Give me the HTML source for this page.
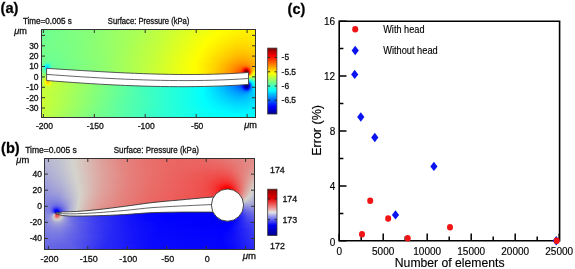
<!DOCTYPE html><html><head><meta charset="utf-8"><style>html,body{margin:0;padding:0;background:#fff;width:575px;height:269px;overflow:hidden}svg{display:block;font-family:"Liberation Sans",sans-serif;will-change:transform}</style></head><body><svg width="575" height="269" viewBox="0 0 575 269"><defs><linearGradient id="ga0"><stop offset="0.0023" stop-color="#6cff93"/><stop offset="0.2488" stop-color="#89ff76"/><stop offset="0.4953" stop-color="#b0ff4f"/><stop offset="0.7372" stop-color="#ebff14"/><stop offset="0.8442" stop-color="#feff01"/><stop offset="0.9837" stop-color="#ffee00"/><stop offset="0.9930" stop-color="#ffee00"/><stop offset="0.9977" stop-color="#fff400"/></linearGradient><linearGradient id="ga1"><stop offset="0.0023" stop-color="#6dff92"/><stop offset="0.2488" stop-color="#89ff76"/><stop offset="0.4860" stop-color="#afff50"/><stop offset="0.7372" stop-color="#ecff13"/><stop offset="0.8395" stop-color="#ffff00"/><stop offset="0.9698" stop-color="#ffef00"/><stop offset="0.9884" stop-color="#ffef00"/><stop offset="0.9977" stop-color="#fff600"/></linearGradient><linearGradient id="ga2"><stop offset="0.0023" stop-color="#6dff92"/><stop offset="0.2488" stop-color="#89ff76"/><stop offset="0.4767" stop-color="#aeff51"/><stop offset="0.8302" stop-color="#ffff00"/><stop offset="0.9558" stop-color="#ffef00"/><stop offset="0.9837" stop-color="#ffef00"/><stop offset="0.9977" stop-color="#fff500"/></linearGradient><linearGradient id="ga3"><stop offset="0.0023" stop-color="#6dff92"/><stop offset="0.2488" stop-color="#8aff75"/><stop offset="0.4674" stop-color="#adff52"/><stop offset="0.8209" stop-color="#feff01"/><stop offset="0.9465" stop-color="#ffee00"/><stop offset="0.9791" stop-color="#ffee00"/><stop offset="0.9977" stop-color="#fff400"/></linearGradient><linearGradient id="ga4"><stop offset="0.0023" stop-color="#6eff91"/><stop offset="0.2442" stop-color="#89ff76"/><stop offset="0.4581" stop-color="#acff53"/><stop offset="0.8163" stop-color="#ffff00"/><stop offset="0.9372" stop-color="#ffed00"/><stop offset="0.9744" stop-color="#ffed00"/><stop offset="0.9977" stop-color="#fff300"/></linearGradient><linearGradient id="ga5"><stop offset="0.0023" stop-color="#6eff91"/><stop offset="0.2395" stop-color="#88ff77"/><stop offset="0.4488" stop-color="#abff54"/><stop offset="0.8070" stop-color="#feff01"/><stop offset="0.9279" stop-color="#ffec00"/><stop offset="0.9698" stop-color="#ffec00"/><stop offset="0.9977" stop-color="#fff100"/></linearGradient><linearGradient id="ga6"><stop offset="0.0023" stop-color="#6eff91"/><stop offset="0.2302" stop-color="#87ff78"/><stop offset="0.4395" stop-color="#aaff55"/><stop offset="0.8023" stop-color="#ffff00"/><stop offset="0.9233" stop-color="#ffeb00"/><stop offset="0.9651" stop-color="#ffea00"/><stop offset="0.9977" stop-color="#fff000"/></linearGradient><linearGradient id="ga7"><stop offset="0.0023" stop-color="#6fff90"/><stop offset="0.2256" stop-color="#87ff78"/><stop offset="0.4302" stop-color="#a8ff57"/><stop offset="0.5326" stop-color="#bdff42"/><stop offset="0.7977" stop-color="#ffff00"/><stop offset="0.9186" stop-color="#ffea00"/><stop offset="0.9605" stop-color="#ffe900"/><stop offset="0.9977" stop-color="#ffee00"/></linearGradient><linearGradient id="ga8"><stop offset="0.0023" stop-color="#6fff90"/><stop offset="0.2163" stop-color="#85ff7a"/><stop offset="0.4209" stop-color="#a7ff58"/><stop offset="0.5372" stop-color="#bfff40"/><stop offset="0.7930" stop-color="#ffff00"/><stop offset="0.9140" stop-color="#ffe800"/><stop offset="0.9605" stop-color="#ffe700"/><stop offset="0.9977" stop-color="#ffed00"/></linearGradient><linearGradient id="ga9"><stop offset="0.0023" stop-color="#70ff8f"/><stop offset="0.2023" stop-color="#84ff7b"/><stop offset="0.4070" stop-color="#a5ff5a"/><stop offset="0.5372" stop-color="#bfff40"/><stop offset="0.7884" stop-color="#ffff00"/><stop offset="0.9140" stop-color="#ffe600"/><stop offset="0.9558" stop-color="#ffe500"/><stop offset="0.9977" stop-color="#ffeb00"/></linearGradient><linearGradient id="ga10"><stop offset="0.0023" stop-color="#70ff8f"/><stop offset="0.1930" stop-color="#82ff7d"/><stop offset="0.3977" stop-color="#a3ff5c"/><stop offset="0.5372" stop-color="#c0ff3f"/><stop offset="0.7837" stop-color="#ffff00"/><stop offset="0.9093" stop-color="#ffe500"/><stop offset="0.9558" stop-color="#ffe400"/><stop offset="0.9977" stop-color="#ffea00"/></linearGradient><linearGradient id="ga11"><stop offset="0.0023" stop-color="#70ff8f"/><stop offset="0.1837" stop-color="#81ff7e"/><stop offset="0.3884" stop-color="#a2ff5d"/><stop offset="0.5372" stop-color="#c0ff3f"/><stop offset="0.7791" stop-color="#ffff00"/><stop offset="0.9093" stop-color="#ffe300"/><stop offset="0.9558" stop-color="#ffe200"/><stop offset="0.9977" stop-color="#ffe800"/></linearGradient><linearGradient id="ga12"><stop offset="0.0023" stop-color="#71ff8e"/><stop offset="0.1744" stop-color="#80ff7f"/><stop offset="0.3791" stop-color="#a0ff5f"/><stop offset="0.5372" stop-color="#c1ff3e"/><stop offset="0.7744" stop-color="#ffff00"/><stop offset="0.9093" stop-color="#ffe100"/><stop offset="0.9558" stop-color="#ffe000"/><stop offset="0.9977" stop-color="#ffe700"/></linearGradient><linearGradient id="ga13"><stop offset="0.0023" stop-color="#71ff8e"/><stop offset="0.1651" stop-color="#7fff80"/><stop offset="0.3698" stop-color="#9fff60"/><stop offset="0.5372" stop-color="#c1ff3e"/><stop offset="0.7698" stop-color="#ffff00"/><stop offset="0.9047" stop-color="#ffdf00"/><stop offset="0.9512" stop-color="#ffde00"/><stop offset="0.9977" stop-color="#ffe500"/></linearGradient><linearGradient id="ga14"><stop offset="0.0023" stop-color="#71ff8e"/><stop offset="0.1558" stop-color="#7dff82"/><stop offset="0.3651" stop-color="#9eff61"/><stop offset="0.5419" stop-color="#c3ff3c"/><stop offset="0.7651" stop-color="#ffff00"/><stop offset="0.9047" stop-color="#ffdd00"/><stop offset="0.9512" stop-color="#ffdc00"/><stop offset="0.9977" stop-color="#ffe400"/></linearGradient><linearGradient id="ga15"><stop offset="0.0023" stop-color="#72ff8d"/><stop offset="0.1465" stop-color="#7cff83"/><stop offset="0.3558" stop-color="#9cff63"/><stop offset="0.5372" stop-color="#c2ff3d"/><stop offset="0.7605" stop-color="#ffff00"/><stop offset="0.9047" stop-color="#ffdb00"/><stop offset="0.9512" stop-color="#ffda00"/><stop offset="0.9977" stop-color="#ffe200"/></linearGradient><linearGradient id="ga16"><stop offset="0.0023" stop-color="#72ff8d"/><stop offset="0.1419" stop-color="#7bff84"/><stop offset="0.3512" stop-color="#9cff63"/><stop offset="0.5372" stop-color="#c3ff3c"/><stop offset="0.7605" stop-color="#fffe00"/><stop offset="0.9047" stop-color="#ffd900"/><stop offset="0.9512" stop-color="#ffd700"/><stop offset="0.9977" stop-color="#ffe000"/></linearGradient><linearGradient id="ga17"><stop offset="0.0023" stop-color="#72ff8d"/><stop offset="0.1326" stop-color="#7aff85"/><stop offset="0.3419" stop-color="#9aff65"/><stop offset="0.5372" stop-color="#c3ff3c"/><stop offset="0.7558" stop-color="#ffff00"/><stop offset="0.9047" stop-color="#ffd600"/><stop offset="0.9512" stop-color="#ffd500"/><stop offset="0.9977" stop-color="#ffde00"/></linearGradient><linearGradient id="ga18"><stop offset="0.0023" stop-color="#73ff8c"/><stop offset="0.1279" stop-color="#7aff85"/><stop offset="0.3372" stop-color="#99ff66"/><stop offset="0.5372" stop-color="#c4ff3b"/><stop offset="0.7512" stop-color="#ffff00"/><stop offset="0.9047" stop-color="#ffd400"/><stop offset="0.9512" stop-color="#ffd200"/><stop offset="0.9977" stop-color="#ffdc00"/></linearGradient><linearGradient id="ga19"><stop offset="0.0023" stop-color="#73ff8c"/><stop offset="0.1233" stop-color="#79ff86"/><stop offset="0.3326" stop-color="#98ff67"/><stop offset="0.5326" stop-color="#c3ff3c"/><stop offset="0.7512" stop-color="#fffe00"/><stop offset="0.9047" stop-color="#ffd100"/><stop offset="0.9512" stop-color="#ffd000"/><stop offset="0.9977" stop-color="#ffd900"/></linearGradient><linearGradient id="ga20"><stop offset="0.0023" stop-color="#74ff8b"/><stop offset="0.1140" stop-color="#78ff87"/><stop offset="0.3279" stop-color="#97ff68"/><stop offset="0.5372" stop-color="#c4ff3b"/><stop offset="0.7465" stop-color="#ffff00"/><stop offset="0.9047" stop-color="#ffcf00"/><stop offset="0.9512" stop-color="#ffcd00"/><stop offset="0.9977" stop-color="#ffd700"/></linearGradient><linearGradient id="ga21"><stop offset="0.0023" stop-color="#74ff8b"/><stop offset="0.1093" stop-color="#77ff88"/><stop offset="0.3233" stop-color="#97ff68"/><stop offset="0.5326" stop-color="#c4ff3b"/><stop offset="0.7419" stop-color="#ffff00"/><stop offset="0.9047" stop-color="#ffcc00"/><stop offset="0.9465" stop-color="#ffca00"/><stop offset="0.9977" stop-color="#ffd500"/></linearGradient><linearGradient id="ga22"><stop offset="0.0023" stop-color="#74ff8b"/><stop offset="0.0488" stop-color="#72ff8d"/><stop offset="0.1047" stop-color="#76ff89"/><stop offset="0.3186" stop-color="#96ff69"/><stop offset="0.5326" stop-color="#c4ff3b"/><stop offset="0.7419" stop-color="#fffe00"/><stop offset="0.9047" stop-color="#ffc900"/><stop offset="0.9465" stop-color="#ffc700"/><stop offset="0.9977" stop-color="#ffd300"/></linearGradient><linearGradient id="ga23"><stop offset="0.0023" stop-color="#75ff8a"/><stop offset="0.0442" stop-color="#72ff8d"/><stop offset="0.0953" stop-color="#75ff8a"/><stop offset="0.3140" stop-color="#95ff6a"/><stop offset="0.5326" stop-color="#c5ff3a"/><stop offset="0.7372" stop-color="#ffff00"/><stop offset="0.8674" stop-color="#ffd000"/><stop offset="0.9093" stop-color="#ffc500"/><stop offset="0.9512" stop-color="#ffc400"/><stop offset="0.9977" stop-color="#ffd000"/></linearGradient><linearGradient id="ga24"><stop offset="0.0023" stop-color="#75ff8a"/><stop offset="0.0442" stop-color="#71ff8e"/><stop offset="0.0907" stop-color="#74ff8b"/><stop offset="0.3093" stop-color="#94ff6b"/><stop offset="0.5279" stop-color="#c4ff3b"/><stop offset="0.7372" stop-color="#fffe00"/><stop offset="0.9093" stop-color="#ffc200"/><stop offset="0.9512" stop-color="#ffc100"/><stop offset="0.9977" stop-color="#ffce00"/></linearGradient><linearGradient id="ga25"><stop offset="0.0023" stop-color="#75ff8a"/><stop offset="0.0395" stop-color="#71ff8e"/><stop offset="0.0814" stop-color="#73ff8c"/><stop offset="0.3047" stop-color="#93ff6c"/><stop offset="0.5279" stop-color="#c4ff3b"/><stop offset="0.7326" stop-color="#ffff00"/><stop offset="0.9093" stop-color="#ffbf00"/><stop offset="0.9512" stop-color="#ffbe00"/><stop offset="0.9977" stop-color="#ffcc00"/></linearGradient><linearGradient id="ga26"><stop offset="0.0023" stop-color="#75ff8a"/><stop offset="0.0349" stop-color="#70ff8f"/><stop offset="0.0767" stop-color="#72ff8d"/><stop offset="0.3000" stop-color="#92ff6d"/><stop offset="0.5233" stop-color="#c3ff3c"/><stop offset="0.7279" stop-color="#feff01"/><stop offset="0.9140" stop-color="#ffba00"/><stop offset="0.9512" stop-color="#ffba00"/><stop offset="0.9977" stop-color="#ffc900"/></linearGradient><linearGradient id="ga27"><stop offset="0.0023" stop-color="#75ff8a"/><stop offset="0.0349" stop-color="#70ff8f"/><stop offset="0.0674" stop-color="#71ff8e"/><stop offset="0.2953" stop-color="#91ff6e"/><stop offset="0.5233" stop-color="#c4ff3b"/><stop offset="0.7279" stop-color="#ffff00"/><stop offset="0.9140" stop-color="#ffb700"/><stop offset="0.9512" stop-color="#ffb600"/><stop offset="0.9977" stop-color="#ffc700"/></linearGradient><linearGradient id="ga28"><stop offset="0.0023" stop-color="#75ff8a"/><stop offset="0.0302" stop-color="#6fff90"/><stop offset="0.0628" stop-color="#70ff8f"/><stop offset="0.2953" stop-color="#91ff6e"/><stop offset="0.5233" stop-color="#c4ff3b"/><stop offset="0.7233" stop-color="#feff01"/><stop offset="0.9140" stop-color="#ffb300"/><stop offset="0.9512" stop-color="#ffb200"/><stop offset="0.9977" stop-color="#ffc500"/></linearGradient><linearGradient id="ga29"><stop offset="0.0023" stop-color="#75ff8a"/><stop offset="0.0302" stop-color="#6eff91"/><stop offset="0.0535" stop-color="#6eff91"/><stop offset="0.2907" stop-color="#90ff6f"/><stop offset="0.5186" stop-color="#c3ff3c"/><stop offset="0.7233" stop-color="#feff01"/><stop offset="0.9186" stop-color="#ffae00"/><stop offset="0.9512" stop-color="#ffae00"/><stop offset="0.9977" stop-color="#ffc200"/></linearGradient><linearGradient id="ga30"><stop offset="0.0023" stop-color="#75ff8a"/><stop offset="0.0256" stop-color="#6eff91"/><stop offset="0.0488" stop-color="#6dff92"/><stop offset="0.2907" stop-color="#90ff6f"/><stop offset="0.5186" stop-color="#c4ff3b"/><stop offset="0.7233" stop-color="#ffff00"/><stop offset="0.9186" stop-color="#ffa900"/><stop offset="0.9512" stop-color="#ffa900"/><stop offset="0.9977" stop-color="#ffc000"/></linearGradient><linearGradient id="ga31"><stop offset="0.0023" stop-color="#75ff8a"/><stop offset="0.0256" stop-color="#6bff94"/><stop offset="0.0395" stop-color="#6bff94"/><stop offset="0.2860" stop-color="#8fff70"/><stop offset="0.5186" stop-color="#c4ff3b"/><stop offset="0.7186" stop-color="#feff01"/><stop offset="0.7837" stop-color="#ffe600"/><stop offset="0.8953" stop-color="#ffae00"/><stop offset="0.9233" stop-color="#ffa300"/><stop offset="0.9558" stop-color="#ffa500"/><stop offset="0.9977" stop-color="#ffbd00"/></linearGradient><linearGradient id="ga32"><stop offset="0.0023" stop-color="#75ff8a"/><stop offset="0.0256" stop-color="#67ff98"/><stop offset="0.0349" stop-color="#66ff99"/><stop offset="0.2860" stop-color="#8fff70"/><stop offset="0.5186" stop-color="#c4ff3b"/><stop offset="0.7186" stop-color="#ffff00"/><stop offset="0.7930" stop-color="#ffe100"/><stop offset="0.9233" stop-color="#ff9e00"/><stop offset="0.9558" stop-color="#ffa000"/><stop offset="0.9977" stop-color="#ffbb00"/></linearGradient><linearGradient id="ga33"><stop offset="0.0023" stop-color="#75ff8a"/><stop offset="0.0302" stop-color="#5cffa3"/><stop offset="0.0488" stop-color="#68ff97"/><stop offset="0.0674" stop-color="#6dff92"/><stop offset="0.2674" stop-color="#8bff74"/><stop offset="0.4395" stop-color="#b1ff4e"/><stop offset="0.5884" stop-color="#d7ff28"/><stop offset="0.7186" stop-color="#ffff00"/><stop offset="0.7930" stop-color="#ffe000"/><stop offset="0.9000" stop-color="#ffa300"/><stop offset="0.9279" stop-color="#ff9800"/><stop offset="0.9558" stop-color="#ff9a00"/><stop offset="0.9977" stop-color="#ffb800"/></linearGradient><linearGradient id="ga34"><stop offset="0.0023" stop-color="#74ff8b"/><stop offset="0.0116" stop-color="#68ff97"/><stop offset="0.0256" stop-color="#49ffb6"/><stop offset="0.0302" stop-color="#46ffb9"/><stop offset="0.0488" stop-color="#64ff9b"/><stop offset="0.0628" stop-color="#6cff93"/><stop offset="0.2535" stop-color="#89ff76"/><stop offset="0.3465" stop-color="#9cff63"/><stop offset="0.5372" stop-color="#caff35"/><stop offset="0.7140" stop-color="#feff01"/><stop offset="0.7977" stop-color="#ffdc00"/><stop offset="0.9093" stop-color="#ff9a00"/><stop offset="0.9326" stop-color="#ff9000"/><stop offset="0.9558" stop-color="#ff9300"/><stop offset="0.9977" stop-color="#ffb600"/></linearGradient><linearGradient id="ga35"><stop offset="0.0023" stop-color="#74ff8b"/><stop offset="0.0116" stop-color="#61ff9e"/><stop offset="0.0256" stop-color="#29ffd6"/><stop offset="0.0302" stop-color="#24ffdb"/><stop offset="0.0349" stop-color="#2effd1"/><stop offset="0.0442" stop-color="#53ffac"/><stop offset="0.0488" stop-color="#5fffa0"/><stop offset="0.0581" stop-color="#69ff96"/><stop offset="0.0721" stop-color="#6eff91"/><stop offset="0.2488" stop-color="#88ff77"/><stop offset="0.3372" stop-color="#9aff65"/><stop offset="0.5326" stop-color="#c9ff36"/><stop offset="0.7140" stop-color="#feff01"/><stop offset="0.8023" stop-color="#ffd900"/><stop offset="0.9140" stop-color="#ff9200"/><stop offset="0.9372" stop-color="#ff8800"/><stop offset="0.9558" stop-color="#ff8b00"/><stop offset="0.9837" stop-color="#ffab00"/><stop offset="0.9977" stop-color="#ffb400"/></linearGradient><linearGradient id="ga36"><stop offset="0.0023" stop-color="#73ff8c"/><stop offset="0.0070" stop-color="#6aff95"/><stop offset="0.0116" stop-color="#59ffa6"/><stop offset="0.0256" stop-color="#06fcf9"/><stop offset="0.0302" stop-color="#03f8fc"/><stop offset="0.0349" stop-color="#0dfef2"/><stop offset="0.0442" stop-color="#47ffb8"/><stop offset="0.0488" stop-color="#5affa5"/><stop offset="0.0581" stop-color="#69ff96"/><stop offset="0.0674" stop-color="#6cff93"/><stop offset="0.3279" stop-color="#97ff68"/><stop offset="0.5279" stop-color="#c8ff37"/><stop offset="0.7140" stop-color="#ffff00"/><stop offset="0.8070" stop-color="#ffd500"/><stop offset="0.9186" stop-color="#ff8900"/><stop offset="0.9465" stop-color="#ff7b00"/><stop offset="0.9605" stop-color="#ff8200"/><stop offset="0.9837" stop-color="#ffaa00"/><stop offset="0.9930" stop-color="#ffb300"/><stop offset="0.9977" stop-color="#ffb300"/></linearGradient><linearGradient id="ga37"><stop offset="0.0023" stop-color="#74ff8b"/><stop offset="0.0070" stop-color="#68ff97"/><stop offset="0.0116" stop-color="#54ffab"/><stop offset="0.0163" stop-color="#33ffcc"/><stop offset="0.0209" stop-color="#0bfef4"/><stop offset="0.0256" stop-color="#00e6ff"/><stop offset="0.0302" stop-color="#00ddff"/><stop offset="0.0349" stop-color="#00f4ff"/><stop offset="0.0395" stop-color="#1cffe3"/><stop offset="0.0442" stop-color="#40ffbf"/><stop offset="0.0488" stop-color="#57ffa8"/><stop offset="0.0535" stop-color="#63ff9c"/><stop offset="0.0674" stop-color="#6dff92"/><stop offset="0.3140" stop-color="#94ff6b"/><stop offset="0.5186" stop-color="#c6ff39"/><stop offset="0.7140" stop-color="#ffff00"/><stop offset="0.7744" stop-color="#ffe500"/><stop offset="0.8302" stop-color="#ffc600"/><stop offset="0.8814" stop-color="#ffa100"/><stop offset="0.9512" stop-color="#ff6500"/><stop offset="0.9605" stop-color="#ff6d00"/><stop offset="0.9837" stop-color="#ffaa00"/><stop offset="0.9930" stop-color="#ffb700"/><stop offset="0.9977" stop-color="#ffb900"/></linearGradient><linearGradient id="ga38"><stop offset="0.0023" stop-color="#76ff89"/><stop offset="0.0070" stop-color="#68ff97"/><stop offset="0.0116" stop-color="#53ffac"/><stop offset="0.0163" stop-color="#31ffce"/><stop offset="0.0209" stop-color="#08fbf7"/><stop offset="0.0256" stop-color="#00dcff"/><stop offset="0.0302" stop-color="#00d6ff"/><stop offset="0.0349" stop-color="#00f2ff"/><stop offset="0.0395" stop-color="#1bffe4"/><stop offset="0.0442" stop-color="#40ffbf"/><stop offset="0.0488" stop-color="#58ffa7"/><stop offset="0.0535" stop-color="#64ff9b"/><stop offset="0.0628" stop-color="#6cff93"/><stop offset="0.3047" stop-color="#92ff6d"/><stop offset="0.5140" stop-color="#c5ff3a"/><stop offset="0.7140" stop-color="#fffe00"/><stop offset="0.7930" stop-color="#ffdb00"/><stop offset="0.8674" stop-color="#ffaa00"/><stop offset="0.9279" stop-color="#ff7300"/><stop offset="0.9372" stop-color="#ff6400"/><stop offset="0.9512" stop-color="#ff4200"/><stop offset="0.9558" stop-color="#ff4100"/><stop offset="0.9605" stop-color="#ff4b00"/><stop offset="0.9791" stop-color="#ff9c00"/><stop offset="0.9884" stop-color="#ffb600"/><stop offset="0.9977" stop-color="#ffc600"/></linearGradient><linearGradient id="ga39"><stop offset="0.0023" stop-color="#79ff86"/><stop offset="0.0070" stop-color="#6bff94"/><stop offset="0.0116" stop-color="#57ffa8"/><stop offset="0.0163" stop-color="#38ffc7"/><stop offset="0.0209" stop-color="#0efef1"/><stop offset="0.0256" stop-color="#00d7ff"/><stop offset="0.0302" stop-color="#00dfff"/><stop offset="0.0349" stop-color="#09fdf6"/><stop offset="0.0442" stop-color="#47ffb8"/><stop offset="0.0488" stop-color="#5dffa2"/><stop offset="0.0535" stop-color="#68ff97"/><stop offset="0.0581" stop-color="#6bff94"/><stop offset="0.2907" stop-color="#8eff71"/><stop offset="0.5093" stop-color="#c4ff3b"/><stop offset="0.7140" stop-color="#fffe00"/><stop offset="0.7605" stop-color="#ffeb00"/><stop offset="0.8116" stop-color="#ffcf00"/><stop offset="0.8581" stop-color="#ffaf00"/><stop offset="0.8953" stop-color="#ff8e00"/><stop offset="0.9233" stop-color="#ff7000"/><stop offset="0.9326" stop-color="#ff6000"/><stop offset="0.9372" stop-color="#ff5200"/><stop offset="0.9512" stop-color="#fe1100"/><stop offset="0.9558" stop-color="#fd0d00"/><stop offset="0.9605" stop-color="#ff1900"/><stop offset="0.9651" stop-color="#ff3700"/><stop offset="0.9744" stop-color="#ff7c00"/><stop offset="0.9791" stop-color="#ff9700"/><stop offset="0.9884" stop-color="#ffbc00"/><stop offset="0.9977" stop-color="#ffd500"/></linearGradient><linearGradient id="ga40"><stop offset="0.0023" stop-color="#7cff83"/><stop offset="0.0116" stop-color="#5effa1"/><stop offset="0.0163" stop-color="#45ffba"/><stop offset="0.0209" stop-color="#23ffdc"/><stop offset="0.0256" stop-color="#03f4fc"/><stop offset="0.0302" stop-color="#01f2fe"/><stop offset="0.0349" stop-color="#23ffdc"/><stop offset="0.0442" stop-color="#50ffaf"/><stop offset="0.0488" stop-color="#62ff9d"/><stop offset="0.0535" stop-color="#6bff94"/><stop offset="0.2860" stop-color="#8dff72"/><stop offset="0.5093" stop-color="#c4ff3b"/><stop offset="0.7140" stop-color="#fffe00"/><stop offset="0.7605" stop-color="#ffeb00"/><stop offset="0.8116" stop-color="#ffce00"/><stop offset="0.8628" stop-color="#ffa900"/><stop offset="0.8953" stop-color="#ff8a00"/><stop offset="0.9186" stop-color="#ff6f00"/><stop offset="0.9279" stop-color="#ff6000"/><stop offset="0.9326" stop-color="#ff5300"/><stop offset="0.9372" stop-color="#ff3d00"/><stop offset="0.9419" stop-color="#ff1d00"/><stop offset="0.9465" stop-color="#f20300"/><stop offset="0.9512" stop-color="#d20000"/><stop offset="0.9558" stop-color="#c60000"/><stop offset="0.9605" stop-color="#da0000"/><stop offset="0.9651" stop-color="#fa0d00"/><stop offset="0.9744" stop-color="#ff6d00"/><stop offset="0.9791" stop-color="#ff9300"/><stop offset="0.9837" stop-color="#ffaf00"/><stop offset="0.9884" stop-color="#ffc400"/><stop offset="0.9977" stop-color="#ffe400"/></linearGradient><linearGradient id="ga41"><stop offset="0.0023" stop-color="#7fff80"/><stop offset="0.0116" stop-color="#67ff98"/><stop offset="0.0163" stop-color="#55ffaa"/><stop offset="0.0256" stop-color="#23ffdc"/><stop offset="0.0302" stop-color="#1bffe4"/><stop offset="0.0349" stop-color="#26ffd9"/><stop offset="0.0395" stop-color="#48ffb7"/><stop offset="0.0488" stop-color="#65ff9a"/><stop offset="0.0535" stop-color="#6bff94"/><stop offset="0.2814" stop-color="#8cff73"/><stop offset="0.5093" stop-color="#c4ff3b"/><stop offset="0.7093" stop-color="#ffff00"/><stop offset="0.7512" stop-color="#ffef00"/><stop offset="0.8070" stop-color="#ffd100"/><stop offset="0.8535" stop-color="#ffaf00"/><stop offset="0.8860" stop-color="#ff9100"/><stop offset="0.9233" stop-color="#ff6100"/><stop offset="0.9279" stop-color="#ff5700"/><stop offset="0.9326" stop-color="#ff4600"/><stop offset="0.9372" stop-color="#ff2a00"/><stop offset="0.9419" stop-color="#f90600"/><stop offset="0.9465" stop-color="#ca0000"/><stop offset="0.9512" stop-color="#9b0000"/><stop offset="0.9558" stop-color="#8b0000"/><stop offset="0.9605" stop-color="#9e0000"/><stop offset="0.9651" stop-color="#d80000"/><stop offset="0.9698" stop-color="#ff2200"/><stop offset="0.9744" stop-color="#ff6100"/><stop offset="0.9791" stop-color="#ff9100"/><stop offset="0.9837" stop-color="#ffb400"/><stop offset="0.9884" stop-color="#ffcd00"/><stop offset="0.9977" stop-color="#fff300"/></linearGradient><linearGradient id="ga42"><stop offset="0.0023" stop-color="#82ff7d"/><stop offset="0.0163" stop-color="#63ff9c"/><stop offset="0.0256" stop-color="#44ffbb"/><stop offset="0.0349" stop-color="#3effc1"/><stop offset="0.0395" stop-color="#45ffba"/><stop offset="0.0442" stop-color="#5bffa4"/><stop offset="0.0535" stop-color="#6cff93"/><stop offset="0.2767" stop-color="#8aff75"/><stop offset="0.5093" stop-color="#c4ff3b"/><stop offset="0.7093" stop-color="#ffff00"/><stop offset="0.7512" stop-color="#ffef00"/><stop offset="0.8023" stop-color="#ffd300"/><stop offset="0.8488" stop-color="#ffb100"/><stop offset="0.8814" stop-color="#ff9300"/><stop offset="0.9047" stop-color="#ff7700"/><stop offset="0.9233" stop-color="#ff5a00"/><stop offset="0.9279" stop-color="#ff4e00"/><stop offset="0.9326" stop-color="#ff3b00"/><stop offset="0.9372" stop-color="#ff1d00"/><stop offset="0.9419" stop-color="#ed0000"/><stop offset="0.9465" stop-color="#b20000"/><stop offset="0.9512" stop-color="#840000"/><stop offset="0.9558" stop-color="#800000"/><stop offset="0.9605" stop-color="#810000"/><stop offset="0.9651" stop-color="#b10000"/><stop offset="0.9698" stop-color="#fc1200"/><stop offset="0.9744" stop-color="#ff5c00"/><stop offset="0.9791" stop-color="#ff9500"/><stop offset="0.9837" stop-color="#ffbc00"/><stop offset="0.9930" stop-color="#fff000"/><stop offset="0.9977" stop-color="#f9fe06"/></linearGradient><linearGradient id="ga43"><stop offset="0.0023" stop-color="#86ff79"/><stop offset="0.0163" stop-color="#71ff8e"/><stop offset="0.0256" stop-color="#5effa1"/><stop offset="0.0395" stop-color="#58ffa7"/><stop offset="0.0442" stop-color="#5bffa4"/><stop offset="0.0488" stop-color="#67ff98"/><stop offset="0.0535" stop-color="#6cff93"/><stop offset="0.2767" stop-color="#8aff75"/><stop offset="0.5047" stop-color="#c3ff3c"/><stop offset="0.7093" stop-color="#ffff00"/><stop offset="0.7465" stop-color="#fff100"/><stop offset="0.8023" stop-color="#ffd200"/><stop offset="0.8767" stop-color="#ff9600"/><stop offset="0.9047" stop-color="#ff7200"/><stop offset="0.9233" stop-color="#ff5400"/><stop offset="0.9279" stop-color="#ff4800"/><stop offset="0.9326" stop-color="#ff3400"/><stop offset="0.9372" stop-color="#ff1600"/><stop offset="0.9419" stop-color="#ea0000"/><stop offset="0.9465" stop-color="#b20000"/><stop offset="0.9512" stop-color="#830000"/><stop offset="0.9605" stop-color="#800000"/><stop offset="0.9651" stop-color="#970000"/><stop offset="0.9698" stop-color="#f91400"/><stop offset="0.9744" stop-color="#ff6500"/><stop offset="0.9791" stop-color="#ffa100"/><stop offset="0.9837" stop-color="#ffca00"/><stop offset="0.9884" stop-color="#ffe900"/><stop offset="0.9930" stop-color="#fbfd04"/><stop offset="0.9977" stop-color="#e7ff18"/></linearGradient><linearGradient id="ga44"><stop offset="0.0023" stop-color="#89ff76"/><stop offset="0.0256" stop-color="#75ff8a"/><stop offset="0.0488" stop-color="#6bff94"/><stop offset="0.2721" stop-color="#89ff76"/><stop offset="0.5047" stop-color="#c4ff3b"/><stop offset="0.7093" stop-color="#fffe00"/><stop offset="0.7419" stop-color="#fff300"/><stop offset="0.8070" stop-color="#ffcf00"/><stop offset="0.8767" stop-color="#ff9500"/><stop offset="0.9233" stop-color="#ff5100"/><stop offset="0.9279" stop-color="#ff4500"/><stop offset="0.9326" stop-color="#ff3100"/><stop offset="0.9372" stop-color="#ff1700"/><stop offset="0.9419" stop-color="#f20100"/><stop offset="0.9465" stop-color="#c70000"/><stop offset="0.9512" stop-color="#9f0000"/><stop offset="0.9558" stop-color="#840000"/><stop offset="0.9605" stop-color="#8b0000"/><stop offset="0.9651" stop-color="#be0000"/><stop offset="0.9698" stop-color="#ff3100"/><stop offset="0.9744" stop-color="#ff8000"/><stop offset="0.9791" stop-color="#ffb700"/><stop offset="0.9837" stop-color="#ffde00"/><stop offset="0.9884" stop-color="#fdfa02"/><stop offset="0.9977" stop-color="#d3ff2c"/></linearGradient><linearGradient id="ga45"><stop offset="0.0023" stop-color="#8cff73"/><stop offset="0.0256" stop-color="#8bff74"/><stop offset="0.0488" stop-color="#83ff7c"/><stop offset="0.0535" stop-color="#73ff8c"/><stop offset="0.0581" stop-color="#6dff92"/><stop offset="0.2721" stop-color="#89ff76"/><stop offset="0.5047" stop-color="#c4ff3b"/><stop offset="0.7093" stop-color="#fffe00"/><stop offset="0.7419" stop-color="#fff400"/><stop offset="0.8070" stop-color="#ffcf00"/><stop offset="0.8767" stop-color="#ff9500"/><stop offset="0.9233" stop-color="#ff5100"/><stop offset="0.9326" stop-color="#ff3500"/><stop offset="0.9419" stop-color="#fe0800"/><stop offset="0.9465" stop-color="#e70000"/><stop offset="0.9512" stop-color="#ca0000"/><stop offset="0.9558" stop-color="#bf0600"/><stop offset="0.9605" stop-color="#f21100"/><stop offset="0.9651" stop-color="#fd2800"/><stop offset="0.9698" stop-color="#ff6f00"/><stop offset="0.9744" stop-color="#ffaa00"/><stop offset="0.9791" stop-color="#ffd700"/><stop offset="0.9837" stop-color="#fdf602"/><stop offset="0.9884" stop-color="#ecff13"/><stop offset="0.9977" stop-color="#c0ff3f"/></linearGradient><linearGradient id="ga46"><stop offset="0.0023" stop-color="#90ff6f"/><stop offset="0.0256" stop-color="#a1ff5e"/><stop offset="0.0488" stop-color="#9aff65"/><stop offset="0.0535" stop-color="#b7ff48"/><stop offset="0.0581" stop-color="#c3ff3c"/><stop offset="0.0767" stop-color="#beff41"/><stop offset="0.0860" stop-color="#96ff69"/><stop offset="0.1093" stop-color="#95ff6a"/><stop offset="0.1186" stop-color="#74ff8b"/><stop offset="0.2721" stop-color="#89ff76"/><stop offset="0.5047" stop-color="#c4ff3b"/><stop offset="0.7093" stop-color="#fffe00"/><stop offset="0.7419" stop-color="#fff400"/><stop offset="0.8070" stop-color="#ffcf00"/><stop offset="0.8767" stop-color="#ff9500"/><stop offset="0.9233" stop-color="#ff5200"/><stop offset="0.9326" stop-color="#ff3800"/><stop offset="0.9465" stop-color="#fc0200"/><stop offset="0.9512" stop-color="#ee2000"/><stop offset="0.9558" stop-color="#ff6700"/><stop offset="0.9605" stop-color="#ff6f00"/><stop offset="0.9651" stop-color="#ff8400"/><stop offset="0.9698" stop-color="#ffb300"/><stop offset="0.9744" stop-color="#ffdb00"/><stop offset="0.9791" stop-color="#fcf803"/><stop offset="0.9837" stop-color="#e8ff17"/><stop offset="0.9977" stop-color="#acff53"/></linearGradient><linearGradient id="ga47"><stop offset="0.0023" stop-color="#93ff6c"/><stop offset="0.0256" stop-color="#b7ff48"/><stop offset="0.0395" stop-color="#b4ff4b"/><stop offset="0.0442" stop-color="#b8ff47"/><stop offset="0.0488" stop-color="#c8ff37"/><stop offset="0.0535" stop-color="#c4ff3b"/><stop offset="0.1465" stop-color="#acff53"/><stop offset="0.1512" stop-color="#91ff6e"/><stop offset="0.1837" stop-color="#8eff71"/><stop offset="0.1884" stop-color="#7dff82"/><stop offset="0.2721" stop-color="#89ff76"/><stop offset="0.5047" stop-color="#c4ff3b"/><stop offset="0.7093" stop-color="#fffe00"/><stop offset="0.7419" stop-color="#fff400"/><stop offset="0.8070" stop-color="#ffcf00"/><stop offset="0.8767" stop-color="#ff9500"/><stop offset="0.9233" stop-color="#ff5200"/><stop offset="0.9279" stop-color="#ff4800"/><stop offset="0.9419" stop-color="#ff1c00"/><stop offset="0.9465" stop-color="#ff3f00"/><stop offset="0.9512" stop-color="#ffc300"/><stop offset="0.9605" stop-color="#ffcd00"/><stop offset="0.9651" stop-color="#ffda00"/><stop offset="0.9698" stop-color="#fbf204"/><stop offset="0.9744" stop-color="#eefe11"/><stop offset="0.9837" stop-color="#c8ff37"/><stop offset="0.9977" stop-color="#9aff65"/></linearGradient><linearGradient id="ga48"><stop offset="0.0023" stop-color="#98ff67"/><stop offset="0.0163" stop-color="#b4ff4b"/><stop offset="0.0256" stop-color="#cfff30"/><stop offset="0.0442" stop-color="#d1ff2e"/><stop offset="0.0535" stop-color="#c4ff3b"/><stop offset="0.1372" stop-color="#b0ff4f"/><stop offset="0.2209" stop-color="#92ff6d"/><stop offset="0.2256" stop-color="#8aff75"/><stop offset="0.2628" stop-color="#87ff78"/><stop offset="0.5047" stop-color="#c4ff3b"/><stop offset="0.7093" stop-color="#fffe00"/><stop offset="0.7419" stop-color="#fff400"/><stop offset="0.8070" stop-color="#ffcf00"/><stop offset="0.8767" stop-color="#ff9500"/><stop offset="0.9233" stop-color="#ff5200"/><stop offset="0.9372" stop-color="#ff2d00"/><stop offset="0.9419" stop-color="#f65809"/><stop offset="0.9465" stop-color="#eaff15"/><stop offset="0.9651" stop-color="#d4ff2b"/><stop offset="0.9791" stop-color="#afff50"/><stop offset="0.9977" stop-color="#8bff74"/></linearGradient><linearGradient id="ga49"><stop offset="0.0023" stop-color="#9cff63"/><stop offset="0.0163" stop-color="#c1ff3e"/><stop offset="0.0256" stop-color="#ebff14"/><stop offset="0.0302" stop-color="#f2ff0d"/><stop offset="0.0349" stop-color="#edff12"/><stop offset="0.0488" stop-color="#caff35"/><stop offset="0.0535" stop-color="#c5ff3a"/><stop offset="0.1372" stop-color="#b0ff4f"/><stop offset="0.3000" stop-color="#78ff87"/><stop offset="0.3093" stop-color="#84ff7b"/><stop offset="0.3465" stop-color="#83ff7c"/><stop offset="0.3512" stop-color="#9dff62"/><stop offset="0.5093" stop-color="#c5ff3a"/><stop offset="0.7093" stop-color="#fffe00"/><stop offset="0.7419" stop-color="#fff400"/><stop offset="0.8070" stop-color="#ffcf00"/><stop offset="0.8767" stop-color="#ff9500"/><stop offset="0.9233" stop-color="#ff5200"/><stop offset="0.9326" stop-color="#ff3b00"/><stop offset="0.9372" stop-color="#e3631c"/><stop offset="0.9419" stop-color="#a0ff5f"/><stop offset="0.9651" stop-color="#87ff78"/><stop offset="0.9977" stop-color="#7dff82"/></linearGradient><linearGradient id="ga50"><stop offset="0.0023" stop-color="#a1ff5e"/><stop offset="0.0116" stop-color="#baff45"/><stop offset="0.0163" stop-color="#ceff31"/><stop offset="0.0209" stop-color="#e9ff16"/><stop offset="0.0256" stop-color="#feef01"/><stop offset="0.0302" stop-color="#ffe800"/><stop offset="0.0349" stop-color="#fbfd04"/><stop offset="0.0488" stop-color="#ceff31"/><stop offset="0.0581" stop-color="#c3ff3c"/><stop offset="0.1372" stop-color="#b0ff4f"/><stop offset="0.2721" stop-color="#80ff7f"/><stop offset="0.3977" stop-color="#5bffa4"/><stop offset="0.4023" stop-color="#82ff7d"/><stop offset="0.4535" stop-color="#81ff7e"/><stop offset="0.4628" stop-color="#b9ff46"/><stop offset="0.7093" stop-color="#fffe00"/><stop offset="0.7419" stop-color="#fff400"/><stop offset="0.8070" stop-color="#ffcf00"/><stop offset="0.8581" stop-color="#ffa500"/><stop offset="0.8674" stop-color="#80a080"/><stop offset="0.8814" stop-color="#809380"/><stop offset="0.9047" stop-color="#807080"/><stop offset="0.9140" stop-color="#0063ff"/><stop offset="0.9279" stop-color="#004aff"/><stop offset="0.9372" stop-color="#002bff"/><stop offset="0.9419" stop-color="#41c7be"/><stop offset="0.9465" stop-color="#4cffb3"/><stop offset="0.9605" stop-color="#3bffc4"/><stop offset="0.9651" stop-color="#3bffc4"/><stop offset="0.9791" stop-color="#59ffa6"/><stop offset="0.9977" stop-color="#6eff91"/></linearGradient><linearGradient id="ga51"><stop offset="0.0023" stop-color="#a6ff59"/><stop offset="0.0116" stop-color="#c1ff3e"/><stop offset="0.0163" stop-color="#d8ff27"/><stop offset="0.0209" stop-color="#f7fd08"/><stop offset="0.0256" stop-color="#ffd700"/><stop offset="0.0302" stop-color="#ffd300"/><stop offset="0.0349" stop-color="#ffe700"/><stop offset="0.0395" stop-color="#fdfb02"/><stop offset="0.0442" stop-color="#e8ff17"/><stop offset="0.0488" stop-color="#d3ff2c"/><stop offset="0.0535" stop-color="#c7ff38"/><stop offset="0.0628" stop-color="#c2ff3d"/><stop offset="0.1372" stop-color="#b0ff4f"/><stop offset="0.2767" stop-color="#7fff80"/><stop offset="0.5326" stop-color="#35ffca"/><stop offset="0.5419" stop-color="#81ff7e"/><stop offset="0.7047" stop-color="#88ff77"/><stop offset="0.7419" stop-color="#84f97b"/><stop offset="0.7884" stop-color="#80e080"/><stop offset="0.7977" stop-color="#00dfff"/><stop offset="0.8814" stop-color="#0095ff"/><stop offset="0.9233" stop-color="#0055ff"/><stop offset="0.9279" stop-color="#004aff"/><stop offset="0.9419" stop-color="#001aff"/><stop offset="0.9465" stop-color="#08bbf7"/><stop offset="0.9512" stop-color="#05eefa"/><stop offset="0.9605" stop-color="#00e7ff"/><stop offset="0.9651" stop-color="#01e9fe"/><stop offset="0.9698" stop-color="#0bf9f4"/><stop offset="0.9744" stop-color="#1cffe3"/><stop offset="0.9837" stop-color="#3fffc0"/><stop offset="0.9977" stop-color="#60ff9f"/></linearGradient><linearGradient id="ga52"><stop offset="0.0023" stop-color="#aaff55"/><stop offset="0.0116" stop-color="#c5ff3a"/><stop offset="0.0209" stop-color="#fbfa04"/><stop offset="0.0256" stop-color="#ffd900"/><stop offset="0.0302" stop-color="#ffc900"/><stop offset="0.0349" stop-color="#ffd300"/><stop offset="0.0395" stop-color="#ffee00"/><stop offset="0.0442" stop-color="#f1ff0e"/><stop offset="0.0488" stop-color="#d8ff27"/><stop offset="0.0535" stop-color="#caff35"/><stop offset="0.0628" stop-color="#c2ff3d"/><stop offset="0.1372" stop-color="#b0ff4f"/><stop offset="0.2767" stop-color="#7fff80"/><stop offset="0.5047" stop-color="#3cffc3"/><stop offset="0.7372" stop-color="#0afff5"/><stop offset="0.7512" stop-color="#02fffd"/><stop offset="0.8116" stop-color="#00d4ff"/><stop offset="0.8814" stop-color="#0095ff"/><stop offset="0.9233" stop-color="#0055ff"/><stop offset="0.9326" stop-color="#0039ff"/><stop offset="0.9465" stop-color="#0004fe"/><stop offset="0.9512" stop-color="#0078fb"/><stop offset="0.9558" stop-color="#0091ff"/><stop offset="0.9605" stop-color="#008bff"/><stop offset="0.9651" stop-color="#0094ff"/><stop offset="0.9744" stop-color="#00e7ff"/><stop offset="0.9791" stop-color="#0afcf5"/><stop offset="0.9884" stop-color="#33ffcc"/><stop offset="0.9977" stop-color="#51ffae"/></linearGradient><linearGradient id="ga53"><stop offset="0.0023" stop-color="#aeff51"/><stop offset="0.0116" stop-color="#c7ff38"/><stop offset="0.0209" stop-color="#fbfa04"/><stop offset="0.0256" stop-color="#ffdd00"/><stop offset="0.0302" stop-color="#ffca00"/><stop offset="0.0349" stop-color="#ffd000"/><stop offset="0.0395" stop-color="#ffeb00"/><stop offset="0.0442" stop-color="#f3ff0c"/><stop offset="0.0488" stop-color="#daff25"/><stop offset="0.0535" stop-color="#cbff34"/><stop offset="0.0674" stop-color="#c0ff3f"/><stop offset="0.1372" stop-color="#afff50"/><stop offset="0.2767" stop-color="#7fff80"/><stop offset="0.5047" stop-color="#3cffc3"/><stop offset="0.7372" stop-color="#0afff5"/><stop offset="0.7512" stop-color="#02fffd"/><stop offset="0.8116" stop-color="#00d4ff"/><stop offset="0.8814" stop-color="#0095ff"/><stop offset="0.9233" stop-color="#0055ff"/><stop offset="0.9326" stop-color="#0038ff"/><stop offset="0.9419" stop-color="#000eff"/><stop offset="0.9465" stop-color="#0000f3"/><stop offset="0.9512" stop-color="#0000d9"/><stop offset="0.9558" stop-color="#0025ee"/><stop offset="0.9605" stop-color="#0024ff"/><stop offset="0.9651" stop-color="#0036ff"/><stop offset="0.9698" stop-color="#007aff"/><stop offset="0.9744" stop-color="#00b4ff"/><stop offset="0.9791" stop-color="#00e0ff"/><stop offset="0.9837" stop-color="#06fcf9"/><stop offset="0.9977" stop-color="#43ffbc"/></linearGradient><linearGradient id="ga54"><stop offset="0.0023" stop-color="#b2ff4d"/><stop offset="0.0116" stop-color="#c6ff39"/><stop offset="0.0163" stop-color="#d9ff26"/><stop offset="0.0209" stop-color="#f4ff0b"/><stop offset="0.0256" stop-color="#ffee00"/><stop offset="0.0302" stop-color="#ffdd00"/><stop offset="0.0349" stop-color="#ffe200"/><stop offset="0.0395" stop-color="#fef701"/><stop offset="0.0442" stop-color="#ebff14"/><stop offset="0.0488" stop-color="#d6ff29"/><stop offset="0.0535" stop-color="#caff35"/><stop offset="0.0674" stop-color="#c0ff3f"/><stop offset="0.1372" stop-color="#aeff51"/><stop offset="0.2767" stop-color="#7fff80"/><stop offset="0.5047" stop-color="#3cffc3"/><stop offset="0.7372" stop-color="#0afff5"/><stop offset="0.7512" stop-color="#02fffd"/><stop offset="0.8116" stop-color="#00d4ff"/><stop offset="0.8814" stop-color="#0095ff"/><stop offset="0.9233" stop-color="#0055ff"/><stop offset="0.9279" stop-color="#0048ff"/><stop offset="0.9326" stop-color="#0035ff"/><stop offset="0.9419" stop-color="#0004fb"/><stop offset="0.9465" stop-color="#0000dc"/><stop offset="0.9558" stop-color="#000097"/><stop offset="0.9605" stop-color="#0000ab"/><stop offset="0.9651" stop-color="#0001cc"/><stop offset="0.9698" stop-color="#0038ff"/><stop offset="0.9744" stop-color="#0086ff"/><stop offset="0.9791" stop-color="#00bfff"/><stop offset="0.9837" stop-color="#00e9ff"/><stop offset="0.9884" stop-color="#09fef6"/><stop offset="0.9977" stop-color="#36ffc9"/></linearGradient><linearGradient id="ga55"><stop offset="0.0023" stop-color="#b6ff49"/><stop offset="0.0116" stop-color="#c4ff3b"/><stop offset="0.0163" stop-color="#d1ff2e"/><stop offset="0.0256" stop-color="#f6fe09"/><stop offset="0.0302" stop-color="#fcfa03"/><stop offset="0.0349" stop-color="#fbfb04"/><stop offset="0.0395" stop-color="#f0ff0f"/><stop offset="0.0488" stop-color="#d0ff2f"/><stop offset="0.0535" stop-color="#c8ff37"/><stop offset="0.0628" stop-color="#c1ff3e"/><stop offset="0.5047" stop-color="#3cffc3"/><stop offset="0.7372" stop-color="#0afff5"/><stop offset="0.7512" stop-color="#02fffd"/><stop offset="0.8116" stop-color="#00d4ff"/><stop offset="0.8814" stop-color="#0095ff"/><stop offset="0.9233" stop-color="#0054ff"/><stop offset="0.9279" stop-color="#0046ff"/><stop offset="0.9326" stop-color="#0031ff"/><stop offset="0.9372" stop-color="#0015ff"/><stop offset="0.9419" stop-color="#0000ee"/><stop offset="0.9465" stop-color="#0000bf"/><stop offset="0.9512" stop-color="#000097"/><stop offset="0.9558" stop-color="#00008c"/><stop offset="0.9605" stop-color="#00008c"/><stop offset="0.9651" stop-color="#00009f"/><stop offset="0.9698" stop-color="#0012f7"/><stop offset="0.9744" stop-color="#0064ff"/><stop offset="0.9791" stop-color="#00a5ff"/><stop offset="0.9837" stop-color="#00d4ff"/><stop offset="0.9884" stop-color="#01f6fe"/><stop offset="0.9930" stop-color="#12ffed"/><stop offset="0.9977" stop-color="#28ffd7"/></linearGradient><linearGradient id="ga56"><stop offset="0.0023" stop-color="#baff45"/><stop offset="0.0116" stop-color="#c3ff3c"/><stop offset="0.0302" stop-color="#e5ff1a"/><stop offset="0.0349" stop-color="#e3ff1c"/><stop offset="0.0535" stop-color="#c5ff3a"/><stop offset="0.0674" stop-color="#bfff40"/><stop offset="0.5047" stop-color="#3cffc3"/><stop offset="0.7372" stop-color="#0afff5"/><stop offset="0.7512" stop-color="#02fffd"/><stop offset="0.8116" stop-color="#00d4ff"/><stop offset="0.8814" stop-color="#0096ff"/><stop offset="0.9233" stop-color="#0058ff"/><stop offset="0.9279" stop-color="#004bff"/><stop offset="0.9326" stop-color="#0037ff"/><stop offset="0.9372" stop-color="#0019ff"/><stop offset="0.9419" stop-color="#0000ed"/><stop offset="0.9465" stop-color="#0000b9"/><stop offset="0.9512" stop-color="#00008f"/><stop offset="0.9605" stop-color="#00008c"/><stop offset="0.9651" stop-color="#0000a1"/><stop offset="0.9698" stop-color="#0009f1"/><stop offset="0.9744" stop-color="#0051ff"/><stop offset="0.9791" stop-color="#0095ff"/><stop offset="0.9837" stop-color="#00c6ff"/><stop offset="0.9884" stop-color="#00e9ff"/><stop offset="0.9930" stop-color="#06fef9"/><stop offset="0.9977" stop-color="#1bffe4"/></linearGradient><linearGradient id="ga57"><stop offset="0.0023" stop-color="#beff41"/><stop offset="0.0256" stop-color="#cfff30"/><stop offset="0.0349" stop-color="#d1ff2e"/><stop offset="0.0628" stop-color="#c0ff3f"/><stop offset="0.5047" stop-color="#3cffc3"/><stop offset="0.7326" stop-color="#0bfff4"/><stop offset="0.7512" stop-color="#01fffe"/><stop offset="0.8070" stop-color="#00d9ff"/><stop offset="0.8721" stop-color="#00a2ff"/><stop offset="0.9140" stop-color="#006eff"/><stop offset="0.9279" stop-color="#0054ff"/><stop offset="0.9326" stop-color="#0041ff"/><stop offset="0.9372" stop-color="#0024ff"/><stop offset="0.9419" stop-color="#0003f6"/><stop offset="0.9465" stop-color="#0000c2"/><stop offset="0.9512" stop-color="#000093"/><stop offset="0.9558" stop-color="#00008c"/><stop offset="0.9605" stop-color="#00008c"/><stop offset="0.9651" stop-color="#0000ad"/><stop offset="0.9698" stop-color="#0009f3"/><stop offset="0.9744" stop-color="#004dff"/><stop offset="0.9791" stop-color="#008eff"/><stop offset="0.9837" stop-color="#00beff"/><stop offset="0.9884" stop-color="#00dfff"/><stop offset="0.9930" stop-color="#01f8fe"/><stop offset="0.9977" stop-color="#0ffff0"/></linearGradient><linearGradient id="ga58"><stop offset="0.0023" stop-color="#c2ff3d"/><stop offset="0.0349" stop-color="#c9ff36"/><stop offset="0.5000" stop-color="#3dffc2"/><stop offset="0.7186" stop-color="#0efff1"/><stop offset="0.7512" stop-color="#01fffe"/><stop offset="0.8070" stop-color="#00daff"/><stop offset="0.8674" stop-color="#00a9ff"/><stop offset="0.9186" stop-color="#006fff"/><stop offset="0.9279" stop-color="#005eff"/><stop offset="0.9326" stop-color="#004eff"/><stop offset="0.9372" stop-color="#0035ff"/><stop offset="0.9419" stop-color="#000ffe"/><stop offset="0.9465" stop-color="#0000dc"/><stop offset="0.9512" stop-color="#0000ac"/><stop offset="0.9558" stop-color="#000095"/><stop offset="0.9605" stop-color="#00009c"/><stop offset="0.9651" stop-color="#0000ca"/><stop offset="0.9698" stop-color="#0013fd"/><stop offset="0.9744" stop-color="#0056ff"/><stop offset="0.9791" stop-color="#0090ff"/><stop offset="0.9837" stop-color="#00bbff"/><stop offset="0.9884" stop-color="#00d9ff"/><stop offset="0.9930" stop-color="#00f0ff"/><stop offset="0.9977" stop-color="#03fefc"/></linearGradient><linearGradient id="ga59"><stop offset="0.0023" stop-color="#c4ff3b"/><stop offset="0.0349" stop-color="#c5ff3a"/><stop offset="0.0628" stop-color="#bfff40"/><stop offset="0.4907" stop-color="#40ffbf"/><stop offset="0.7093" stop-color="#0ffff0"/><stop offset="0.7512" stop-color="#01fffe"/><stop offset="0.8070" stop-color="#00dbff"/><stop offset="0.8628" stop-color="#00b0ff"/><stop offset="0.9186" stop-color="#0078ff"/><stop offset="0.9279" stop-color="#006aff"/><stop offset="0.9326" stop-color="#005dff"/><stop offset="0.9372" stop-color="#0049ff"/><stop offset="0.9465" stop-color="#0009fb"/><stop offset="0.9512" stop-color="#0000df"/><stop offset="0.9558" stop-color="#0000cb"/><stop offset="0.9605" stop-color="#0000d4"/><stop offset="0.9651" stop-color="#0005f5"/><stop offset="0.9698" stop-color="#0032ff"/><stop offset="0.9744" stop-color="#006aff"/><stop offset="0.9791" stop-color="#0099ff"/><stop offset="0.9837" stop-color="#00bcff"/><stop offset="0.9884" stop-color="#00d6ff"/><stop offset="0.9977" stop-color="#00f8ff"/></linearGradient><linearGradient id="ga60"><stop offset="0.0023" stop-color="#c5ff3a"/><stop offset="0.0395" stop-color="#c3ff3c"/><stop offset="0.0767" stop-color="#baff45"/><stop offset="0.4814" stop-color="#42ffbd"/><stop offset="0.7047" stop-color="#10ffef"/><stop offset="0.7512" stop-color="#00ffff"/><stop offset="0.8535" stop-color="#00baff"/><stop offset="0.9233" stop-color="#007bff"/><stop offset="0.9326" stop-color="#006cff"/><stop offset="0.9372" stop-color="#005fff"/><stop offset="0.9512" stop-color="#001aff"/><stop offset="0.9558" stop-color="#000ffe"/><stop offset="0.9605" stop-color="#0016ff"/><stop offset="0.9651" stop-color="#0032ff"/><stop offset="0.9744" stop-color="#0082ff"/><stop offset="0.9791" stop-color="#00a5ff"/><stop offset="0.9837" stop-color="#00c0ff"/><stop offset="0.9884" stop-color="#00d4ff"/><stop offset="0.9977" stop-color="#00f3ff"/></linearGradient><linearGradient id="ga61"><stop offset="0.0023" stop-color="#c6ff39"/><stop offset="0.0814" stop-color="#b9ff46"/><stop offset="0.4721" stop-color="#45ffba"/><stop offset="0.7000" stop-color="#11ffee"/><stop offset="0.7512" stop-color="#00ffff"/><stop offset="0.8395" stop-color="#00c7ff"/><stop offset="0.9279" stop-color="#0080ff"/><stop offset="0.9372" stop-color="#0073ff"/><stop offset="0.9512" stop-color="#004eff"/><stop offset="0.9558" stop-color="#0049ff"/><stop offset="0.9605" stop-color="#0050ff"/><stop offset="0.9651" stop-color="#0063ff"/><stop offset="0.9744" stop-color="#0098ff"/><stop offset="0.9837" stop-color="#00c3ff"/><stop offset="0.9977" stop-color="#00edff"/></linearGradient><linearGradient id="ga62"><stop offset="0.0023" stop-color="#c7ff38"/><stop offset="0.0814" stop-color="#b8ff47"/><stop offset="0.4581" stop-color="#49ffb6"/><stop offset="0.6953" stop-color="#12ffed"/><stop offset="0.7512" stop-color="#00ffff"/><stop offset="0.8349" stop-color="#00ccff"/><stop offset="0.9326" stop-color="#0087ff"/><stop offset="0.9512" stop-color="#0074ff"/><stop offset="0.9558" stop-color="#0074ff"/><stop offset="0.9605" stop-color="#007aff"/><stop offset="0.9651" stop-color="#0086ff"/><stop offset="0.9837" stop-color="#00c6ff"/><stop offset="0.9977" stop-color="#00e8ff"/></linearGradient><linearGradient id="ga63"><stop offset="0.0023" stop-color="#c8ff37"/><stop offset="0.1093" stop-color="#b0ff4f"/><stop offset="0.4767" stop-color="#44ffbb"/><stop offset="0.6907" stop-color="#13ffec"/><stop offset="0.7512" stop-color="#00ffff"/><stop offset="0.8163" stop-color="#00daff"/><stop offset="0.9140" stop-color="#0099ff"/><stop offset="0.9512" stop-color="#008dff"/><stop offset="0.9558" stop-color="#008fff"/><stop offset="0.9651" stop-color="#009dff"/><stop offset="0.9837" stop-color="#00c8ff"/><stop offset="0.9977" stop-color="#00e3ff"/></linearGradient><linearGradient id="ga64"><stop offset="0.0023" stop-color="#c8ff37"/><stop offset="0.1093" stop-color="#afff50"/><stop offset="0.4628" stop-color="#47ffb8"/><stop offset="0.6907" stop-color="#13ffec"/><stop offset="0.7512" stop-color="#00ffff"/><stop offset="0.8116" stop-color="#00dfff"/><stop offset="0.9047" stop-color="#00a5ff"/><stop offset="0.9372" stop-color="#009aff"/><stop offset="0.9512" stop-color="#009cff"/><stop offset="0.9605" stop-color="#00a4ff"/><stop offset="0.9977" stop-color="#00deff"/></linearGradient><linearGradient id="ga65"><stop offset="0.0023" stop-color="#c9ff36"/><stop offset="0.1093" stop-color="#afff50"/><stop offset="0.4535" stop-color="#4affb5"/><stop offset="0.6907" stop-color="#13ffec"/><stop offset="0.7512" stop-color="#00ffff"/><stop offset="0.8023" stop-color="#00e6ff"/><stop offset="0.9000" stop-color="#00adff"/><stop offset="0.9326" stop-color="#00a2ff"/><stop offset="0.9558" stop-color="#00aaff"/><stop offset="0.9977" stop-color="#00d9ff"/></linearGradient><linearGradient id="ga66"><stop offset="0.0023" stop-color="#caff35"/><stop offset="0.4349" stop-color="#4fffb0"/><stop offset="0.6907" stop-color="#13ffec"/><stop offset="0.7512" stop-color="#01fffe"/><stop offset="0.8953" stop-color="#00b4ff"/><stop offset="0.9233" stop-color="#00aaff"/><stop offset="0.9512" stop-color="#00afff"/><stop offset="0.9977" stop-color="#00d7ff"/></linearGradient><linearGradient id="ga67"><stop offset="0.0023" stop-color="#cbff34"/><stop offset="0.4209" stop-color="#52ffad"/><stop offset="0.6907" stop-color="#13ffec"/><stop offset="0.7512" stop-color="#01fffe"/><stop offset="0.8907" stop-color="#00bbff"/><stop offset="0.9233" stop-color="#00b0ff"/><stop offset="0.9512" stop-color="#00b5ff"/><stop offset="0.9977" stop-color="#00d9ff"/></linearGradient><linearGradient id="ga68"><stop offset="0.0023" stop-color="#ccff33"/><stop offset="0.4023" stop-color="#57ffa8"/><stop offset="0.6907" stop-color="#13ffec"/><stop offset="0.7558" stop-color="#00feff"/><stop offset="0.8860" stop-color="#00c1ff"/><stop offset="0.9186" stop-color="#00b7ff"/><stop offset="0.9512" stop-color="#00bbff"/><stop offset="0.9977" stop-color="#00dbff"/></linearGradient><linearGradient id="ga69"><stop offset="0.0023" stop-color="#ccff33"/><stop offset="0.3837" stop-color="#5cffa3"/><stop offset="0.6907" stop-color="#14ffeb"/><stop offset="0.7558" stop-color="#00ffff"/><stop offset="0.8814" stop-color="#00c7ff"/><stop offset="0.9186" stop-color="#00bcff"/><stop offset="0.9512" stop-color="#00c0ff"/><stop offset="0.9977" stop-color="#00ddff"/></linearGradient><linearGradient id="ga70"><stop offset="0.0023" stop-color="#cdff32"/><stop offset="0.3698" stop-color="#5fffa0"/><stop offset="0.5047" stop-color="#3cffc3"/><stop offset="0.6907" stop-color="#14ffeb"/><stop offset="0.7558" stop-color="#01fffe"/><stop offset="0.8814" stop-color="#00cbff"/><stop offset="0.9186" stop-color="#00c1ff"/><stop offset="0.9512" stop-color="#00c5ff"/><stop offset="0.9977" stop-color="#00dfff"/></linearGradient><linearGradient id="ga71"><stop offset="0.0023" stop-color="#cdff32"/><stop offset="0.3605" stop-color="#61ff9e"/><stop offset="0.7605" stop-color="#00ffff"/><stop offset="0.8767" stop-color="#00d1ff"/><stop offset="0.9140" stop-color="#00c7ff"/><stop offset="0.9512" stop-color="#00caff"/><stop offset="0.9977" stop-color="#00e1ff"/></linearGradient><linearGradient id="ga72"><stop offset="0.0023" stop-color="#cdff32"/><stop offset="0.3558" stop-color="#62ff9d"/><stop offset="0.7605" stop-color="#00ffff"/><stop offset="0.8767" stop-color="#00d4ff"/><stop offset="0.9140" stop-color="#00cbff"/><stop offset="0.9512" stop-color="#00ceff"/><stop offset="0.9977" stop-color="#00e3ff"/></linearGradient><linearGradient id="ga73"><stop offset="0.0023" stop-color="#ccff33"/><stop offset="0.3605" stop-color="#61ff9e"/><stop offset="0.7651" stop-color="#00ffff"/><stop offset="0.8721" stop-color="#00d9ff"/><stop offset="0.9140" stop-color="#00cfff"/><stop offset="0.9512" stop-color="#00d2ff"/><stop offset="0.9977" stop-color="#00e5ff"/></linearGradient><linearGradient id="ga74"><stop offset="0.0023" stop-color="#ccff33"/><stop offset="0.3558" stop-color="#62ff9d"/><stop offset="0.7651" stop-color="#01fffe"/><stop offset="0.8721" stop-color="#00dcff"/><stop offset="0.9140" stop-color="#00d4ff"/><stop offset="0.9512" stop-color="#00d6ff"/><stop offset="0.9977" stop-color="#00e7ff"/></linearGradient><linearGradient id="ga75"><stop offset="0.0023" stop-color="#cbff34"/><stop offset="0.3558" stop-color="#61ff9e"/><stop offset="0.7698" stop-color="#00ffff"/><stop offset="0.8721" stop-color="#00e0ff"/><stop offset="0.9140" stop-color="#00d8ff"/><stop offset="0.9512" stop-color="#00daff"/><stop offset="0.9977" stop-color="#00e9ff"/></linearGradient><linearGradient id="ga76"><stop offset="0.0023" stop-color="#cbff34"/><stop offset="0.3605" stop-color="#60ff9f"/><stop offset="0.7744" stop-color="#00ffff"/><stop offset="0.9093" stop-color="#00dcff"/><stop offset="0.9512" stop-color="#00ddff"/><stop offset="0.9977" stop-color="#00ebff"/></linearGradient><linearGradient id="ga77"><stop offset="0.0023" stop-color="#caff35"/><stop offset="0.3605" stop-color="#60ff9f"/><stop offset="0.7744" stop-color="#01fffe"/><stop offset="0.9093" stop-color="#00e0ff"/><stop offset="0.9512" stop-color="#00e1ff"/><stop offset="0.9977" stop-color="#00edff"/></linearGradient><linearGradient id="ga78"><stop offset="0.0023" stop-color="#c9ff36"/><stop offset="0.3605" stop-color="#5fffa0"/><stop offset="0.7791" stop-color="#01fffe"/><stop offset="0.9093" stop-color="#00e3ff"/><stop offset="0.9512" stop-color="#00e4ff"/><stop offset="0.9977" stop-color="#00eeff"/></linearGradient><linearGradient id="ga79"><stop offset="0.0023" stop-color="#c9ff36"/><stop offset="0.2488" stop-color="#7dff82"/><stop offset="0.3651" stop-color="#5effa1"/><stop offset="0.5047" stop-color="#3cffc3"/><stop offset="0.7837" stop-color="#01fffe"/><stop offset="0.9093" stop-color="#00e7ff"/><stop offset="0.9512" stop-color="#00e7ff"/><stop offset="0.9977" stop-color="#00f0ff"/></linearGradient><linearGradient id="ga80"><stop offset="0.0023" stop-color="#c8ff37"/><stop offset="0.2488" stop-color="#7cff83"/><stop offset="0.3744" stop-color="#5bffa4"/><stop offset="0.5093" stop-color="#3affc5"/><stop offset="0.7884" stop-color="#01fffe"/><stop offset="0.9140" stop-color="#00eaff"/><stop offset="0.9977" stop-color="#00f1ff"/></linearGradient><linearGradient id="ga81"><stop offset="0.0023" stop-color="#c8ff37"/><stop offset="0.2767" stop-color="#74ff8b"/><stop offset="0.5512" stop-color="#32ffcd"/><stop offset="0.8023" stop-color="#00ffff"/><stop offset="0.9140" stop-color="#00edff"/><stop offset="0.9977" stop-color="#00f3ff"/></linearGradient><linearGradient id="ga82"><stop offset="0.0023" stop-color="#c7ff38"/><stop offset="0.2721" stop-color="#75ff8a"/><stop offset="0.5419" stop-color="#33ffcc"/><stop offset="0.8070" stop-color="#01fffe"/><stop offset="0.9140" stop-color="#00f0ff"/><stop offset="0.9977" stop-color="#00f5ff"/></linearGradient><linearGradient id="ga83"><stop offset="0.0023" stop-color="#c7ff38"/><stop offset="0.2674" stop-color="#75ff8a"/><stop offset="0.5326" stop-color="#35ffca"/><stop offset="0.8163" stop-color="#01fffe"/><stop offset="0.9186" stop-color="#00f3ff"/><stop offset="0.9977" stop-color="#00f6ff"/></linearGradient><linearGradient id="ga84"><stop offset="0.0023" stop-color="#c6ff39"/><stop offset="0.2628" stop-color="#76ff89"/><stop offset="0.5233" stop-color="#37ffc8"/><stop offset="0.7326" stop-color="#0ffff0"/><stop offset="0.8302" stop-color="#01fffe"/><stop offset="0.9233" stop-color="#00f6ff"/><stop offset="0.9977" stop-color="#00f8ff"/></linearGradient><linearGradient id="ga85"><stop offset="0.0023" stop-color="#c6ff39"/><stop offset="0.2581" stop-color="#77ff88"/><stop offset="0.5186" stop-color="#38ffc7"/><stop offset="0.7930" stop-color="#07fff8"/><stop offset="0.8628" stop-color="#00feff"/><stop offset="0.9977" stop-color="#00f9ff"/></linearGradient><linearGradient id="ga86"><stop offset="0.0023" stop-color="#c5ff3a"/><stop offset="0.2581" stop-color="#76ff89"/><stop offset="0.5093" stop-color="#39ffc6"/><stop offset="0.7465" stop-color="#0dfff2"/><stop offset="0.8767" stop-color="#01fffe"/><stop offset="0.9977" stop-color="#00fbff"/></linearGradient><linearGradient id="ga87"><stop offset="0.0023" stop-color="#c5ff3a"/><stop offset="0.2535" stop-color="#76ff89"/><stop offset="0.5047" stop-color="#3affc5"/><stop offset="0.7419" stop-color="#0efff1"/><stop offset="0.9140" stop-color="#01fffe"/><stop offset="0.9977" stop-color="#00fdff"/></linearGradient><linearGradient id="ga88"><stop offset="0.0023" stop-color="#c4ff3b"/><stop offset="0.2535" stop-color="#75ff8a"/><stop offset="0.5000" stop-color="#3bffc4"/><stop offset="0.7419" stop-color="#0ffff0"/><stop offset="0.9977" stop-color="#00feff"/></linearGradient><linearGradient id="gb0"><stop offset="0.0024" stop-color="#b6b6d4"/><stop offset="0.0829" stop-color="#c3c3d1"/><stop offset="0.1398" stop-color="#d4d4cd"/><stop offset="0.2630" stop-color="#dea29d"/><stop offset="0.3768" stop-color="#e5817d"/><stop offset="0.5047" stop-color="#e96e6b"/><stop offset="0.6232" stop-color="#ea6662"/><stop offset="0.7370" stop-color="#ea6662"/><stop offset="0.9882" stop-color="#e28e89"/><stop offset="0.9976" stop-color="#e38b87"/></linearGradient><linearGradient id="gb1"><stop offset="0.0024" stop-color="#b5b5d4"/><stop offset="0.0829" stop-color="#c3c3d1"/><stop offset="0.1398" stop-color="#d4d4cd"/><stop offset="0.2630" stop-color="#dea39d"/><stop offset="0.3673" stop-color="#e48580"/><stop offset="0.5190" stop-color="#e96d6a"/><stop offset="0.6232" stop-color="#ea6662"/><stop offset="0.7417" stop-color="#ea6662"/><stop offset="0.8555" stop-color="#e77470"/><stop offset="0.9787" stop-color="#e38c87"/><stop offset="0.9976" stop-color="#e38b86"/></linearGradient><linearGradient id="gb2"><stop offset="0.0024" stop-color="#b5b5d4"/><stop offset="0.0829" stop-color="#c3c3d1"/><stop offset="0.1398" stop-color="#d4d4cd"/><stop offset="0.2583" stop-color="#dea59f"/><stop offset="0.3673" stop-color="#e48581"/><stop offset="0.5379" stop-color="#e96c68"/><stop offset="0.6280" stop-color="#ea6662"/><stop offset="0.7464" stop-color="#ea6562"/><stop offset="0.8460" stop-color="#e8716d"/><stop offset="0.9692" stop-color="#e38b86"/><stop offset="0.9976" stop-color="#e38c87"/></linearGradient><linearGradient id="gb3"><stop offset="0.0024" stop-color="#b4b4d5"/><stop offset="0.0829" stop-color="#c3c3d1"/><stop offset="0.1398" stop-color="#d4d4cd"/><stop offset="0.2583" stop-color="#dda5a0"/><stop offset="0.3673" stop-color="#e48581"/><stop offset="0.4621" stop-color="#e77471"/><stop offset="0.5521" stop-color="#e96b67"/><stop offset="0.6374" stop-color="#ea6562"/><stop offset="0.7559" stop-color="#ea6562"/><stop offset="0.8507" stop-color="#e8706c"/><stop offset="0.9692" stop-color="#e38b86"/><stop offset="0.9976" stop-color="#e28d88"/></linearGradient><linearGradient id="gb4"><stop offset="0.0024" stop-color="#b3b3d5"/><stop offset="0.0782" stop-color="#c1c1d1"/><stop offset="0.1398" stop-color="#d4d4cd"/><stop offset="0.2630" stop-color="#dea49f"/><stop offset="0.3673" stop-color="#e48681"/><stop offset="0.4716" stop-color="#e8736f"/><stop offset="0.5664" stop-color="#ea6966"/><stop offset="0.7085" stop-color="#eb6460"/><stop offset="0.7891" stop-color="#ea6763"/><stop offset="0.8602" stop-color="#e8706c"/><stop offset="0.9645" stop-color="#e38a85"/><stop offset="0.9976" stop-color="#e28e89"/></linearGradient><linearGradient id="gb5"><stop offset="0.0024" stop-color="#b2b2d5"/><stop offset="0.0782" stop-color="#c1c1d1"/><stop offset="0.1398" stop-color="#d4d4cd"/><stop offset="0.2630" stop-color="#dea59f"/><stop offset="0.3720" stop-color="#e48581"/><stop offset="0.4763" stop-color="#e8736f"/><stop offset="0.5758" stop-color="#ea6965"/><stop offset="0.7227" stop-color="#eb6360"/><stop offset="0.8128" stop-color="#ea6764"/><stop offset="0.8697" stop-color="#e86f6c"/><stop offset="0.9976" stop-color="#e28f8b"/></linearGradient><linearGradient id="gb6"><stop offset="0.0024" stop-color="#b2b2d5"/><stop offset="0.0782" stop-color="#c1c1d2"/><stop offset="0.1398" stop-color="#d4d4cd"/><stop offset="0.2678" stop-color="#dea39e"/><stop offset="0.3720" stop-color="#e48581"/><stop offset="0.4763" stop-color="#e8736f"/><stop offset="0.5853" stop-color="#ea6864"/><stop offset="0.7275" stop-color="#eb625f"/><stop offset="0.8223" stop-color="#ea6663"/><stop offset="0.8791" stop-color="#e8706c"/><stop offset="0.9976" stop-color="#e2918c"/></linearGradient><linearGradient id="gb7"><stop offset="0.0024" stop-color="#b1b1d5"/><stop offset="0.0782" stop-color="#c0c0d2"/><stop offset="0.1398" stop-color="#d4d4cd"/><stop offset="0.2678" stop-color="#dea49e"/><stop offset="0.3720" stop-color="#e48681"/><stop offset="0.4763" stop-color="#e8736f"/><stop offset="0.5900" stop-color="#ea6764"/><stop offset="0.7322" stop-color="#eb615e"/><stop offset="0.8318" stop-color="#ea6562"/><stop offset="0.8839" stop-color="#e86f6b"/><stop offset="0.9976" stop-color="#e1928d"/></linearGradient><linearGradient id="gb8"><stop offset="0.0024" stop-color="#b0b0d5"/><stop offset="0.0782" stop-color="#c0c0d2"/><stop offset="0.1398" stop-color="#d3d3cd"/><stop offset="0.2678" stop-color="#dea49f"/><stop offset="0.3720" stop-color="#e48681"/><stop offset="0.4810" stop-color="#e8726e"/><stop offset="0.5948" stop-color="#ea6763"/><stop offset="0.7417" stop-color="#eb615d"/><stop offset="0.8365" stop-color="#eb6460"/><stop offset="0.8839" stop-color="#e96d6a"/><stop offset="0.9976" stop-color="#e1938f"/></linearGradient><linearGradient id="gb9"><stop offset="0.0024" stop-color="#afafd6"/><stop offset="0.0735" stop-color="#bebed2"/><stop offset="0.1445" stop-color="#d4d3cc"/><stop offset="0.2678" stop-color="#dea49f"/><stop offset="0.3720" stop-color="#e48682"/><stop offset="0.4810" stop-color="#e8726f"/><stop offset="0.5995" stop-color="#ea6663"/><stop offset="0.7512" stop-color="#ec5f5c"/><stop offset="0.8412" stop-color="#eb625f"/><stop offset="0.8886" stop-color="#e96d69"/><stop offset="0.9976" stop-color="#e19590"/></linearGradient><linearGradient id="gb10"><stop offset="0.0024" stop-color="#afafd6"/><stop offset="0.0735" stop-color="#bebed2"/><stop offset="0.1445" stop-color="#d4d3cc"/><stop offset="0.2678" stop-color="#dea49f"/><stop offset="0.3720" stop-color="#e48682"/><stop offset="0.4810" stop-color="#e8726f"/><stop offset="0.6090" stop-color="#ea6562"/><stop offset="0.7654" stop-color="#ec5e5b"/><stop offset="0.8412" stop-color="#ec605d"/><stop offset="0.8886" stop-color="#e96b67"/><stop offset="0.9976" stop-color="#e19691"/></linearGradient><linearGradient id="gb11"><stop offset="0.0024" stop-color="#aeaed6"/><stop offset="0.0735" stop-color="#bdbdd2"/><stop offset="0.1445" stop-color="#d4d4cd"/><stop offset="0.2678" stop-color="#dea59f"/><stop offset="0.3720" stop-color="#e48682"/><stop offset="0.4858" stop-color="#e8726e"/><stop offset="0.6137" stop-color="#eb6562"/><stop offset="0.7844" stop-color="#ec5c59"/><stop offset="0.8460" stop-color="#ec5e5b"/><stop offset="0.8886" stop-color="#ea6965"/><stop offset="0.9692" stop-color="#e28f8a"/><stop offset="0.9976" stop-color="#e09893"/></linearGradient><linearGradient id="gb12"><stop offset="0.0024" stop-color="#adadd6"/><stop offset="0.0735" stop-color="#bcbcd3"/><stop offset="0.1445" stop-color="#d4d4cd"/><stop offset="0.2725" stop-color="#dea39e"/><stop offset="0.3768" stop-color="#e48581"/><stop offset="0.4905" stop-color="#e8716d"/><stop offset="0.6280" stop-color="#eb6460"/><stop offset="0.7986" stop-color="#ed5a57"/><stop offset="0.8507" stop-color="#ec5c59"/><stop offset="0.8934" stop-color="#ea6865"/><stop offset="0.9692" stop-color="#e2908b"/><stop offset="0.9976" stop-color="#e09a95"/></linearGradient><linearGradient id="gb13"><stop offset="0.0024" stop-color="#acacd6"/><stop offset="0.0735" stop-color="#bcbcd3"/><stop offset="0.1445" stop-color="#d3d3cd"/><stop offset="0.2915" stop-color="#df9d98"/><stop offset="0.4194" stop-color="#e67c78"/><stop offset="0.5569" stop-color="#ea6966"/><stop offset="0.7844" stop-color="#ed5956"/><stop offset="0.8365" stop-color="#ed5855"/><stop offset="0.8744" stop-color="#ec5f5c"/><stop offset="0.9976" stop-color="#df9e98"/></linearGradient><linearGradient id="gb14"><stop offset="0.0024" stop-color="#acacd7"/><stop offset="0.0735" stop-color="#bbbbd3"/><stop offset="0.1493" stop-color="#d4d3cc"/><stop offset="0.2915" stop-color="#df9d98"/><stop offset="0.4194" stop-color="#e67d78"/><stop offset="0.5569" stop-color="#ea6966"/><stop offset="0.8081" stop-color="#ee5653"/><stop offset="0.8507" stop-color="#ed5754"/><stop offset="0.8839" stop-color="#ec605d"/><stop offset="0.9976" stop-color="#dea19c"/></linearGradient><linearGradient id="gb15"><stop offset="0.0024" stop-color="#ababd7"/><stop offset="0.0735" stop-color="#babad3"/><stop offset="0.1493" stop-color="#d4d3cd"/><stop offset="0.2915" stop-color="#df9d98"/><stop offset="0.4194" stop-color="#e67d78"/><stop offset="0.5474" stop-color="#e96a67"/><stop offset="0.8175" stop-color="#ee5350"/><stop offset="0.8555" stop-color="#ee5452"/><stop offset="0.8839" stop-color="#ec5d5a"/><stop offset="0.9976" stop-color="#dea49f"/></linearGradient><linearGradient id="gb16"><stop offset="0.0024" stop-color="#aaaad7"/><stop offset="0.0687" stop-color="#b8b8d4"/><stop offset="0.1493" stop-color="#d4d4cd"/><stop offset="0.2915" stop-color="#df9d98"/><stop offset="0.4194" stop-color="#e67d78"/><stop offset="0.5427" stop-color="#e96a67"/><stop offset="0.8270" stop-color="#ef504d"/><stop offset="0.8602" stop-color="#ee524f"/><stop offset="0.8886" stop-color="#ec5c59"/><stop offset="0.9976" stop-color="#dda8a2"/></linearGradient><linearGradient id="gb17"><stop offset="0.0024" stop-color="#a9a9d7"/><stop offset="0.0735" stop-color="#b8b8d3"/><stop offset="0.1493" stop-color="#d4d4cd"/><stop offset="0.2915" stop-color="#df9d98"/><stop offset="0.4147" stop-color="#e67d79"/><stop offset="0.5284" stop-color="#e96c68"/><stop offset="0.8318" stop-color="#ef4d4a"/><stop offset="0.8602" stop-color="#ef4f4c"/><stop offset="0.8886" stop-color="#ed5956"/><stop offset="0.9976" stop-color="#dcaba6"/></linearGradient><linearGradient id="gb18"><stop offset="0.0024" stop-color="#a8a8d7"/><stop offset="0.0687" stop-color="#b6b6d4"/><stop offset="0.1540" stop-color="#d4d3cc"/><stop offset="0.2867" stop-color="#df9f9a"/><stop offset="0.4100" stop-color="#e57e7a"/><stop offset="0.5190" stop-color="#e96d69"/><stop offset="0.7322" stop-color="#ed5956"/><stop offset="0.8365" stop-color="#f04947"/><stop offset="0.8649" stop-color="#f04c49"/><stop offset="0.8934" stop-color="#ed5956"/><stop offset="0.9976" stop-color="#dcafa9"/></linearGradient><linearGradient id="gb19"><stop offset="0.0024" stop-color="#a6a6d8"/><stop offset="0.0735" stop-color="#b7b7d4"/><stop offset="0.1540" stop-color="#d4d3cc"/><stop offset="0.2867" stop-color="#df9f9a"/><stop offset="0.4052" stop-color="#e57f7b"/><stop offset="0.5284" stop-color="#e96c68"/><stop offset="0.7417" stop-color="#ed5754"/><stop offset="0.8412" stop-color="#f14643"/><stop offset="0.8697" stop-color="#f04947"/><stop offset="0.8934" stop-color="#ee5552"/><stop offset="0.9976" stop-color="#dbb2ac"/></linearGradient><linearGradient id="gb20"><stop offset="0.0024" stop-color="#a5a5d8"/><stop offset="0.0735" stop-color="#b6b6d4"/><stop offset="0.1540" stop-color="#d4d3cd"/><stop offset="0.2820" stop-color="#dea19b"/><stop offset="0.4005" stop-color="#e5807c"/><stop offset="0.5237" stop-color="#e96c68"/><stop offset="0.7417" stop-color="#ee5653"/><stop offset="0.8460" stop-color="#f2423f"/><stop offset="0.8697" stop-color="#f14542"/><stop offset="0.8934" stop-color="#ee524f"/><stop offset="0.9976" stop-color="#dab6b0"/></linearGradient><linearGradient id="gb21"><stop offset="0.0024" stop-color="#a3a3d8"/><stop offset="0.0735" stop-color="#b5b5d4"/><stop offset="0.1540" stop-color="#d4d3cd"/><stop offset="0.2820" stop-color="#dea19b"/><stop offset="0.3957" stop-color="#e5817d"/><stop offset="0.5190" stop-color="#e96c69"/><stop offset="0.7417" stop-color="#ee5553"/><stop offset="0.8507" stop-color="#f33d3b"/><stop offset="0.8697" stop-color="#f2403e"/><stop offset="0.8934" stop-color="#ef4e4b"/><stop offset="0.9976" stop-color="#d9b9b3"/></linearGradient><linearGradient id="gb22"><stop offset="0.0024" stop-color="#a2a2d9"/><stop offset="0.0782" stop-color="#b5b5d4"/><stop offset="0.1540" stop-color="#d3d3cd"/><stop offset="0.2773" stop-color="#dea29d"/><stop offset="0.3910" stop-color="#e5827e"/><stop offset="0.5142" stop-color="#e96d69"/><stop offset="0.7417" stop-color="#ee5552"/><stop offset="0.8555" stop-color="#f43836"/><stop offset="0.8744" stop-color="#f33c3a"/><stop offset="0.8981" stop-color="#ef4e4b"/><stop offset="0.9976" stop-color="#d9bdb6"/></linearGradient><linearGradient id="gb23"><stop offset="0.0024" stop-color="#a1a1d9"/><stop offset="0.0782" stop-color="#b4b4d5"/><stop offset="0.1588" stop-color="#d4d3cc"/><stop offset="0.2725" stop-color="#dea49e"/><stop offset="0.3815" stop-color="#e48480"/><stop offset="0.5095" stop-color="#e96d6a"/><stop offset="0.7417" stop-color="#ee5451"/><stop offset="0.8555" stop-color="#f53231"/><stop offset="0.8744" stop-color="#f43635"/><stop offset="0.8934" stop-color="#f14542"/><stop offset="0.9976" stop-color="#d8c0ba"/></linearGradient><linearGradient id="gb24"><stop offset="0.0024" stop-color="#9f9fd9"/><stop offset="0.0782" stop-color="#b3b3d5"/><stop offset="0.1588" stop-color="#d4d3cd"/><stop offset="0.2678" stop-color="#dda5a0"/><stop offset="0.3720" stop-color="#e48682"/><stop offset="0.5047" stop-color="#e96e6a"/><stop offset="0.7464" stop-color="#ee5350"/><stop offset="0.7844" stop-color="#f04947"/><stop offset="0.8602" stop-color="#f62c2b"/><stop offset="0.8744" stop-color="#f5302e"/><stop offset="0.8934" stop-color="#f23f3d"/><stop offset="0.9597" stop-color="#e09792"/><stop offset="0.9976" stop-color="#d7c4bd"/></linearGradient><linearGradient id="gb25"><stop offset="0.0024" stop-color="#9e9eda"/><stop offset="0.0782" stop-color="#b2b2d5"/><stop offset="0.1588" stop-color="#d4d3cd"/><stop offset="0.2630" stop-color="#dda7a1"/><stop offset="0.3626" stop-color="#e38884"/><stop offset="0.5000" stop-color="#e96e6b"/><stop offset="0.7464" stop-color="#ee524f"/><stop offset="0.7891" stop-color="#f14644"/><stop offset="0.8602" stop-color="#f72524"/><stop offset="0.8744" stop-color="#f72827"/><stop offset="0.8934" stop-color="#f33a38"/><stop offset="0.9550" stop-color="#e1928d"/><stop offset="0.9976" stop-color="#d6c8c1"/></linearGradient><linearGradient id="gb26"><stop offset="0.0024" stop-color="#9c9cda"/><stop offset="0.0782" stop-color="#b0b0d5"/><stop offset="0.1588" stop-color="#d4d3cd"/><stop offset="0.2583" stop-color="#dda8a3"/><stop offset="0.3531" stop-color="#e38b86"/><stop offset="0.4953" stop-color="#e96f6b"/><stop offset="0.7512" stop-color="#ef514e"/><stop offset="0.7938" stop-color="#f14341"/><stop offset="0.8507" stop-color="#f8211f"/><stop offset="0.8649" stop-color="#f91d1c"/><stop offset="0.8791" stop-color="#f82322"/><stop offset="0.8934" stop-color="#f53332"/><stop offset="0.9502" stop-color="#e38c87"/><stop offset="0.9976" stop-color="#d6ccc5"/></linearGradient><linearGradient id="gb27"><stop offset="0.0024" stop-color="#9b9bda"/><stop offset="0.0782" stop-color="#afafd6"/><stop offset="0.1635" stop-color="#d4d3cc"/><stop offset="0.2725" stop-color="#dea39e"/><stop offset="0.3910" stop-color="#e5817d"/><stop offset="0.5000" stop-color="#e96e6a"/><stop offset="0.7038" stop-color="#ed5855"/><stop offset="0.7654" stop-color="#ef4d4a"/><stop offset="0.8033" stop-color="#f33d3b"/><stop offset="0.8507" stop-color="#fa1918"/><stop offset="0.8649" stop-color="#fb1313"/><stop offset="0.8744" stop-color="#fa1616"/><stop offset="0.8886" stop-color="#f72624"/><stop offset="0.9502" stop-color="#e28d88"/><stop offset="0.9976" stop-color="#d5d0c9"/></linearGradient><linearGradient id="gb28"><stop offset="0.0024" stop-color="#9a9adb"/><stop offset="0.0782" stop-color="#aeaed6"/><stop offset="0.1635" stop-color="#d4d3cc"/><stop offset="0.2725" stop-color="#dea39d"/><stop offset="0.3863" stop-color="#e5827e"/><stop offset="0.5000" stop-color="#e96d6a"/><stop offset="0.7085" stop-color="#ed5754"/><stop offset="0.7654" stop-color="#f04c4a"/><stop offset="0.8081" stop-color="#f33937"/><stop offset="0.8555" stop-color="#fc0d0d"/><stop offset="0.8649" stop-color="#fd0808"/><stop offset="0.8744" stop-color="#fd0b0b"/><stop offset="0.8839" stop-color="#fb1615"/><stop offset="0.9502" stop-color="#e28e89"/><stop offset="0.9976" stop-color="#d3d2cd"/></linearGradient><linearGradient id="gb29"><stop offset="0.0024" stop-color="#9898db"/><stop offset="0.0782" stop-color="#acacd6"/><stop offset="0.1635" stop-color="#d4d3cc"/><stop offset="0.2725" stop-color="#dea29d"/><stop offset="0.3863" stop-color="#e5827e"/><stop offset="0.4953" stop-color="#e96e6a"/><stop offset="0.7085" stop-color="#ed5653"/><stop offset="0.7701" stop-color="#f04a48"/><stop offset="0.8128" stop-color="#f43432"/><stop offset="0.8555" stop-color="#fe0303"/><stop offset="0.8649" stop-color="#fc0000"/><stop offset="0.8744" stop-color="#fd0101"/><stop offset="0.8839" stop-color="#fd0b0b"/><stop offset="0.9265" stop-color="#eb6360"/><stop offset="0.9502" stop-color="#e2908b"/><stop offset="0.9929" stop-color="#d4d1cb"/><stop offset="0.9976" stop-color="#cfcfce"/></linearGradient><linearGradient id="gb30"><stop offset="0.0024" stop-color="#9797db"/><stop offset="0.0782" stop-color="#aaaad7"/><stop offset="0.1635" stop-color="#d4d3cd"/><stop offset="0.2678" stop-color="#dea49e"/><stop offset="0.3815" stop-color="#e4837e"/><stop offset="0.4953" stop-color="#e96e6a"/><stop offset="0.7085" stop-color="#ee5653"/><stop offset="0.7701" stop-color="#f04a48"/><stop offset="0.7938" stop-color="#f2403e"/><stop offset="0.8128" stop-color="#f53331"/><stop offset="0.8318" stop-color="#f91e1d"/><stop offset="0.8507" stop-color="#fe0101"/><stop offset="0.8555" stop-color="#fa0000"/><stop offset="0.8697" stop-color="#f20000"/><stop offset="0.8839" stop-color="#fe0101"/><stop offset="0.9265" stop-color="#eb635f"/><stop offset="0.9502" stop-color="#e2918c"/><stop offset="0.9882" stop-color="#d5cec7"/><stop offset="0.9929" stop-color="#d2d2cd"/><stop offset="0.9976" stop-color="#cbcbcf"/></linearGradient><linearGradient id="gb31"><stop offset="0.0024" stop-color="#9595dc"/><stop offset="0.0782" stop-color="#a9a9d7"/><stop offset="0.1635" stop-color="#d4d3cd"/><stop offset="0.2678" stop-color="#dea49e"/><stop offset="0.3815" stop-color="#e5827e"/><stop offset="0.5000" stop-color="#e96d69"/><stop offset="0.7085" stop-color="#ee5653"/><stop offset="0.7701" stop-color="#f04a48"/><stop offset="0.7938" stop-color="#f2403e"/><stop offset="0.8128" stop-color="#f53231"/><stop offset="0.8318" stop-color="#f91b1b"/><stop offset="0.8460" stop-color="#fe0202"/><stop offset="0.8507" stop-color="#fb0000"/><stop offset="0.8697" stop-color="#e70000"/><stop offset="0.8886" stop-color="#fe0202"/><stop offset="0.9265" stop-color="#eb625f"/><stop offset="0.9502" stop-color="#e1938e"/><stop offset="0.9882" stop-color="#d5d1ca"/><stop offset="0.9976" stop-color="#c7c7d0"/></linearGradient><linearGradient id="gb32"><stop offset="0.0024" stop-color="#9494dc"/><stop offset="0.0782" stop-color="#a7a7d8"/><stop offset="0.1635" stop-color="#d3d3cd"/><stop offset="0.2678" stop-color="#dea39e"/><stop offset="0.3815" stop-color="#e5827e"/><stop offset="0.5000" stop-color="#e96c69"/><stop offset="0.7085" stop-color="#ee5553"/><stop offset="0.7701" stop-color="#f04a48"/><stop offset="0.8081" stop-color="#f43635"/><stop offset="0.8270" stop-color="#f82120"/><stop offset="0.8460" stop-color="#fe0101"/><stop offset="0.8507" stop-color="#fa0000"/><stop offset="0.8697" stop-color="#e70000"/><stop offset="0.8886" stop-color="#fe0202"/><stop offset="0.9028" stop-color="#f82120"/><stop offset="0.9313" stop-color="#e96e6a"/><stop offset="0.9550" stop-color="#df9e99"/><stop offset="0.9882" stop-color="#d3d2cd"/><stop offset="0.9976" stop-color="#c4c4d1"/></linearGradient><linearGradient id="gb33"><stop offset="0.0024" stop-color="#9393dc"/><stop offset="0.0782" stop-color="#a5a5d8"/><stop offset="0.1635" stop-color="#d3d3cd"/><stop offset="0.2678" stop-color="#dea39d"/><stop offset="0.3815" stop-color="#e5827e"/><stop offset="0.5000" stop-color="#e96c68"/><stop offset="0.7133" stop-color="#ee5552"/><stop offset="0.7749" stop-color="#f04947"/><stop offset="0.7938" stop-color="#f2413f"/><stop offset="0.8128" stop-color="#f53331"/><stop offset="0.8460" stop-color="#fe0303"/><stop offset="0.8507" stop-color="#fc0000"/><stop offset="0.8697" stop-color="#e80000"/><stop offset="0.8886" stop-color="#fe0404"/><stop offset="0.9076" stop-color="#f62d2b"/><stop offset="0.9360" stop-color="#e67a76"/><stop offset="0.9597" stop-color="#ddaaa4"/><stop offset="0.9834" stop-color="#d5d0c9"/><stop offset="0.9882" stop-color="#d0d0ce"/><stop offset="0.9976" stop-color="#c2c2d1"/></linearGradient><linearGradient id="gb34"><stop offset="0.0024" stop-color="#9292dd"/><stop offset="0.0782" stop-color="#a3a3d9"/><stop offset="0.1635" stop-color="#d3d3cd"/><stop offset="0.1682" stop-color="#d4d2cb"/><stop offset="0.2678" stop-color="#dea29d"/><stop offset="0.3815" stop-color="#e5827d"/><stop offset="0.5047" stop-color="#e96b67"/><stop offset="0.7133" stop-color="#ee5452"/><stop offset="0.7749" stop-color="#f04a47"/><stop offset="0.8081" stop-color="#f43837"/><stop offset="0.8318" stop-color="#f91e1d"/><stop offset="0.8460" stop-color="#fe0706"/><stop offset="0.8507" stop-color="#fd0000"/><stop offset="0.8555" stop-color="#f80000"/><stop offset="0.8697" stop-color="#e80000"/><stop offset="0.8839" stop-color="#fc0000"/><stop offset="0.9123" stop-color="#f33d3b"/><stop offset="0.9408" stop-color="#e38883"/><stop offset="0.9645" stop-color="#dab6b0"/><stop offset="0.9834" stop-color="#d4d2cc"/><stop offset="0.9976" stop-color="#bfbfd2"/></linearGradient><linearGradient id="gb35"><stop offset="0.0024" stop-color="#9191dd"/><stop offset="0.0735" stop-color="#9f9fd9"/><stop offset="0.1682" stop-color="#d4d2cb"/><stop offset="0.2630" stop-color="#dea49e"/><stop offset="0.3768" stop-color="#e5827e"/><stop offset="0.5047" stop-color="#e96b67"/><stop offset="0.7180" stop-color="#ee5451"/><stop offset="0.7796" stop-color="#f04946"/><stop offset="0.8081" stop-color="#f33a39"/><stop offset="0.8365" stop-color="#f91b1a"/><stop offset="0.8507" stop-color="#fe0202"/><stop offset="0.8555" stop-color="#f90000"/><stop offset="0.8697" stop-color="#e80000"/><stop offset="0.8839" stop-color="#fd0101"/><stop offset="0.9218" stop-color="#ed5956"/><stop offset="0.9455" stop-color="#e19691"/><stop offset="0.9787" stop-color="#d5d0c9"/><stop offset="0.9834" stop-color="#d1d1ce"/><stop offset="0.9976" stop-color="#bdbdd2"/></linearGradient><linearGradient id="gb36"><stop offset="0.0024" stop-color="#9090dd"/><stop offset="0.0735" stop-color="#9d9dda"/><stop offset="0.1682" stop-color="#d4d3cc"/><stop offset="0.2630" stop-color="#dea39e"/><stop offset="0.3768" stop-color="#e5827e"/><stop offset="0.5047" stop-color="#e96a67"/><stop offset="0.7275" stop-color="#ee5250"/><stop offset="0.7891" stop-color="#f14745"/><stop offset="0.8081" stop-color="#f33d3b"/><stop offset="0.8270" stop-color="#f62b2a"/><stop offset="0.8412" stop-color="#fa1817"/><stop offset="0.8507" stop-color="#fe0404"/><stop offset="0.8555" stop-color="#fb0000"/><stop offset="0.8697" stop-color="#e80000"/><stop offset="0.8839" stop-color="#fe0303"/><stop offset="0.9076" stop-color="#f24240"/><stop offset="0.9265" stop-color="#e96a67"/><stop offset="0.9455" stop-color="#e09a95"/><stop offset="0.9739" stop-color="#d5cdc6"/><stop offset="0.9787" stop-color="#d4d2cc"/><stop offset="0.9976" stop-color="#babad3"/></linearGradient><linearGradient id="gb37"><stop offset="0.0024" stop-color="#8f8fdd"/><stop offset="0.0450" stop-color="#9292dd"/><stop offset="0.0735" stop-color="#9a9adb"/><stop offset="0.1682" stop-color="#d4d3cc"/><stop offset="0.2630" stop-color="#dea29d"/><stop offset="0.3768" stop-color="#e5817d"/><stop offset="0.5095" stop-color="#ea6966"/><stop offset="0.7938" stop-color="#f04846"/><stop offset="0.8081" stop-color="#f2413f"/><stop offset="0.8270" stop-color="#f5302e"/><stop offset="0.8412" stop-color="#f91d1c"/><stop offset="0.8507" stop-color="#fd0908"/><stop offset="0.8555" stop-color="#fd0000"/><stop offset="0.8602" stop-color="#f60000"/><stop offset="0.8697" stop-color="#e80000"/><stop offset="0.8791" stop-color="#fa0000"/><stop offset="0.8839" stop-color="#fe0706"/><stop offset="0.9123" stop-color="#ed5754"/><stop offset="0.9313" stop-color="#e67d78"/><stop offset="0.9502" stop-color="#dda9a4"/><stop offset="0.9739" stop-color="#d5d1ca"/><stop offset="0.9787" stop-color="#d1d1ce"/><stop offset="0.9976" stop-color="#b8b8d4"/></linearGradient><linearGradient id="gb38"><stop offset="0.0024" stop-color="#8e8ede"/><stop offset="0.0450" stop-color="#9090dd"/><stop offset="0.0735" stop-color="#9898db"/><stop offset="0.1682" stop-color="#d4d3cc"/><stop offset="0.2156" stop-color="#dab7b1"/><stop offset="0.2630" stop-color="#dea29c"/><stop offset="0.3815" stop-color="#e5807c"/><stop offset="0.5142" stop-color="#ea6865"/><stop offset="0.8033" stop-color="#f04947"/><stop offset="0.8318" stop-color="#f52f2e"/><stop offset="0.8460" stop-color="#fa1919"/><stop offset="0.8555" stop-color="#fe0202"/><stop offset="0.8602" stop-color="#f70000"/><stop offset="0.8697" stop-color="#e80000"/><stop offset="0.8791" stop-color="#fc0000"/><stop offset="0.8839" stop-color="#fd0c0c"/><stop offset="0.9028" stop-color="#f04947"/><stop offset="0.9123" stop-color="#eb625e"/><stop offset="0.9313" stop-color="#e48480"/><stop offset="0.9502" stop-color="#dbafaa"/><stop offset="0.9692" stop-color="#d5cfc8"/><stop offset="0.9739" stop-color="#d2d2cd"/><stop offset="0.9976" stop-color="#b6b6d4"/></linearGradient><linearGradient id="gb39"><stop offset="0.0024" stop-color="#8c8cde"/><stop offset="0.0450" stop-color="#8d8dde"/><stop offset="0.0735" stop-color="#9595dc"/><stop offset="0.1682" stop-color="#d4d3cc"/><stop offset="0.2204" stop-color="#dab4ae"/><stop offset="0.2725" stop-color="#df9d98"/><stop offset="0.4147" stop-color="#e77975"/><stop offset="0.5237" stop-color="#ea6663"/><stop offset="0.7464" stop-color="#ef504e"/><stop offset="0.7986" stop-color="#f04c4a"/><stop offset="0.8033" stop-color="#ee5451"/><stop offset="0.8365" stop-color="#f52f2d"/><stop offset="0.8460" stop-color="#f91f1e"/><stop offset="0.8555" stop-color="#fe0606"/><stop offset="0.8602" stop-color="#fa0000"/><stop offset="0.8697" stop-color="#e90000"/><stop offset="0.8791" stop-color="#fd0202"/><stop offset="0.8981" stop-color="#f14744"/><stop offset="0.9123" stop-color="#e96e6a"/><stop offset="0.9645" stop-color="#d5cec7"/><stop offset="0.9692" stop-color="#d3d2cd"/><stop offset="0.9976" stop-color="#b3b3d5"/></linearGradient><linearGradient id="gb40"><stop offset="0.0024" stop-color="#8b8bde"/><stop offset="0.0450" stop-color="#8a8ade"/><stop offset="0.0735" stop-color="#9191dd"/><stop offset="0.1682" stop-color="#d4d3cc"/><stop offset="0.2251" stop-color="#dbb1ab"/><stop offset="0.2867" stop-color="#e09893"/><stop offset="0.3673" stop-color="#e5827e"/><stop offset="0.4858" stop-color="#e96b68"/><stop offset="0.7938" stop-color="#f04c4a"/><stop offset="0.7986" stop-color="#ee5653"/><stop offset="0.8033" stop-color="#ea6965"/><stop offset="0.8175" stop-color="#f04b49"/><stop offset="0.8412" stop-color="#f62e2d"/><stop offset="0.8507" stop-color="#f91b1a"/><stop offset="0.8555" stop-color="#fc0d0c"/><stop offset="0.8602" stop-color="#fc0000"/><stop offset="0.8649" stop-color="#f10000"/><stop offset="0.8697" stop-color="#e90000"/><stop offset="0.8791" stop-color="#fe0606"/><stop offset="0.8934" stop-color="#f14340"/><stop offset="0.9076" stop-color="#e8706c"/><stop offset="0.9171" stop-color="#e48580"/><stop offset="0.9597" stop-color="#d5cec7"/><stop offset="0.9645" stop-color="#d3d2cc"/><stop offset="0.9976" stop-color="#b1b1d5"/></linearGradient><linearGradient id="gb41"><stop offset="0.0024" stop-color="#8a8ade"/><stop offset="0.0450" stop-color="#8787df"/><stop offset="0.0735" stop-color="#8e8ede"/><stop offset="0.0972" stop-color="#9d9dda"/><stop offset="0.1635" stop-color="#d2d2cd"/><stop offset="0.1682" stop-color="#d4d2cb"/><stop offset="0.2299" stop-color="#dcaea8"/><stop offset="0.2915" stop-color="#e19590"/><stop offset="0.3815" stop-color="#e57f7b"/><stop offset="0.5095" stop-color="#ea6764"/><stop offset="0.7938" stop-color="#f04c4a"/><stop offset="0.8033" stop-color="#e67d79"/><stop offset="0.8223" stop-color="#ee524f"/><stop offset="0.8460" stop-color="#f62d2c"/><stop offset="0.8555" stop-color="#fb1514"/><stop offset="0.8602" stop-color="#fd0403"/><stop offset="0.8649" stop-color="#f30000"/><stop offset="0.8697" stop-color="#ea0000"/><stop offset="0.8744" stop-color="#f70000"/><stop offset="0.8791" stop-color="#fc0d0d"/><stop offset="0.8934" stop-color="#ee5250"/><stop offset="0.9076" stop-color="#e57f7b"/><stop offset="0.9218" stop-color="#df9c97"/><stop offset="0.9550" stop-color="#d5cfc8"/><stop offset="0.9597" stop-color="#d2d2cd"/><stop offset="0.9976" stop-color="#aeaed6"/></linearGradient><linearGradient id="gb42"><stop offset="0.0024" stop-color="#8989df"/><stop offset="0.0498" stop-color="#8484e0"/><stop offset="0.0735" stop-color="#8a8ade"/><stop offset="0.0972" stop-color="#9a9adb"/><stop offset="0.1588" stop-color="#cfcfce"/><stop offset="0.1682" stop-color="#d4d2cb"/><stop offset="0.2109" stop-color="#dab7b1"/><stop offset="0.2583" stop-color="#dea09b"/><stop offset="0.3720" stop-color="#e5807c"/><stop offset="0.5142" stop-color="#ea6663"/><stop offset="0.7938" stop-color="#f04c4a"/><stop offset="0.7986" stop-color="#e09994"/><stop offset="0.8128" stop-color="#e5827e"/><stop offset="0.8223" stop-color="#e96c68"/><stop offset="0.8318" stop-color="#ef504d"/><stop offset="0.8507" stop-color="#f62c2b"/><stop offset="0.8555" stop-color="#f91f1e"/><stop offset="0.8602" stop-color="#fd0b0a"/><stop offset="0.8649" stop-color="#f60000"/><stop offset="0.8697" stop-color="#eb0000"/><stop offset="0.8744" stop-color="#fa0101"/><stop offset="0.8791" stop-color="#fa1817"/><stop offset="0.8886" stop-color="#ef504d"/><stop offset="0.8981" stop-color="#e77773"/><stop offset="0.9123" stop-color="#df9c97"/><stop offset="0.9265" stop-color="#dbb4ae"/><stop offset="0.9502" stop-color="#d4d1ca"/><stop offset="0.9550" stop-color="#d0d0ce"/><stop offset="0.9739" stop-color="#bdbdd2"/><stop offset="0.9976" stop-color="#acacd6"/></linearGradient><linearGradient id="gb43"><stop offset="0.0024" stop-color="#8888df"/><stop offset="0.0498" stop-color="#8080e1"/><stop offset="0.0735" stop-color="#8686df"/><stop offset="0.0924" stop-color="#9292dc"/><stop offset="0.1635" stop-color="#d3d3cd"/><stop offset="0.2109" stop-color="#dab6b0"/><stop offset="0.2583" stop-color="#df9f9a"/><stop offset="0.3720" stop-color="#e5807c"/><stop offset="0.5095" stop-color="#ea6663"/><stop offset="0.7938" stop-color="#f04c4a"/><stop offset="0.7986" stop-color="#dcaea9"/><stop offset="0.8128" stop-color="#e09b96"/><stop offset="0.8223" stop-color="#e38984"/><stop offset="0.8318" stop-color="#e96f6b"/><stop offset="0.8412" stop-color="#ef4d4a"/><stop offset="0.8555" stop-color="#f62a29"/><stop offset="0.8602" stop-color="#fa1716"/><stop offset="0.8649" stop-color="#fa0101"/><stop offset="0.8697" stop-color="#ec0000"/><stop offset="0.8744" stop-color="#fb0606"/><stop offset="0.8839" stop-color="#f04c49"/><stop offset="0.8886" stop-color="#ea6764"/><stop offset="0.8934" stop-color="#e67d79"/><stop offset="0.9076" stop-color="#dda7a1"/><stop offset="0.9218" stop-color="#d8bfb9"/><stop offset="0.9360" stop-color="#d5cec7"/><stop offset="0.9455" stop-color="#d1d0cd"/><stop offset="0.9692" stop-color="#babad3"/><stop offset="0.9976" stop-color="#aaaad7"/></linearGradient><linearGradient id="gb44"><stop offset="0.0024" stop-color="#8787df"/><stop offset="0.0498" stop-color="#7c7ce2"/><stop offset="0.0735" stop-color="#8181e1"/><stop offset="0.0924" stop-color="#8f8fdd"/><stop offset="0.1635" stop-color="#d3d3cd"/><stop offset="0.2062" stop-color="#dab8b2"/><stop offset="0.2536" stop-color="#dfa09b"/><stop offset="0.3626" stop-color="#e5817d"/><stop offset="0.5095" stop-color="#ea6562"/><stop offset="0.7891" stop-color="#ef4d4a"/><stop offset="0.7986" stop-color="#d7c4be"/><stop offset="0.8175" stop-color="#dbafaa"/><stop offset="0.8318" stop-color="#e1948f"/><stop offset="0.8412" stop-color="#e87370"/><stop offset="0.8507" stop-color="#f04846"/><stop offset="0.8602" stop-color="#f72625"/><stop offset="0.8649" stop-color="#fc0808"/><stop offset="0.8697" stop-color="#ee0000"/><stop offset="0.8744" stop-color="#fb1111"/><stop offset="0.8791" stop-color="#f14442"/><stop offset="0.8839" stop-color="#e96b68"/><stop offset="0.8886" stop-color="#e48682"/><stop offset="0.8981" stop-color="#dcaaa5"/><stop offset="0.9123" stop-color="#d7c7c1"/><stop offset="0.9218" stop-color="#d3cfca"/><stop offset="0.9313" stop-color="#cecece"/><stop offset="0.9692" stop-color="#b3b3d5"/><stop offset="0.9976" stop-color="#a7a7d8"/></linearGradient><linearGradient id="gb45"><stop offset="0.0024" stop-color="#8686df"/><stop offset="0.0498" stop-color="#7777e3"/><stop offset="0.0687" stop-color="#7979e2"/><stop offset="0.0877" stop-color="#8686df"/><stop offset="0.1351" stop-color="#babad3"/><stop offset="0.1635" stop-color="#d3d3cd"/><stop offset="0.2062" stop-color="#dab7b1"/><stop offset="0.2536" stop-color="#df9f9a"/><stop offset="0.3531" stop-color="#e4837e"/><stop offset="0.5047" stop-color="#ea6662"/><stop offset="0.7891" stop-color="#ef4d4a"/><stop offset="0.7986" stop-color="#cecece"/><stop offset="0.8175" stop-color="#d5ccc6"/><stop offset="0.8318" stop-color="#d9bbb5"/><stop offset="0.8412" stop-color="#dda6a0"/><stop offset="0.8460" stop-color="#e19590"/><stop offset="0.8507" stop-color="#e67d79"/><stop offset="0.8649" stop-color="#f91c1b"/><stop offset="0.8697" stop-color="#f40000"/><stop offset="0.8744" stop-color="#f53231"/><stop offset="0.8791" stop-color="#e8736f"/><stop offset="0.8839" stop-color="#e09893"/><stop offset="0.8886" stop-color="#dbb1ab"/><stop offset="0.8934" stop-color="#d8c1ba"/><stop offset="0.8981" stop-color="#d5cac5"/><stop offset="0.9076" stop-color="#cdcdce"/><stop offset="0.9123" stop-color="#c9c9d0"/><stop offset="0.9645" stop-color="#adadd6"/><stop offset="0.9976" stop-color="#a5a5d8"/></linearGradient><linearGradient id="gb46"><stop offset="0.0024" stop-color="#8585e0"/><stop offset="0.0545" stop-color="#7070e5"/><stop offset="0.0687" stop-color="#7272e4"/><stop offset="0.0877" stop-color="#8181e1"/><stop offset="0.1351" stop-color="#b9b9d3"/><stop offset="0.1635" stop-color="#d4d3cd"/><stop offset="0.2014" stop-color="#dab9b3"/><stop offset="0.2488" stop-color="#dfa09b"/><stop offset="0.3389" stop-color="#e48581"/><stop offset="0.5047" stop-color="#ea6662"/><stop offset="0.7749" stop-color="#ef4e4b"/><stop offset="0.7796" stop-color="#7827a2"/><stop offset="0.7891" stop-color="#7826a2"/><stop offset="0.7986" stop-color="#b7b7d4"/><stop offset="0.8365" stop-color="#c7c7d0"/><stop offset="0.8460" stop-color="#ccc3c8"/><stop offset="0.8555" stop-color="#d8b8b4"/><stop offset="0.8602" stop-color="#df9b96"/><stop offset="0.8649" stop-color="#ec5f5c"/><stop offset="0.8697" stop-color="#f91918"/><stop offset="0.8744" stop-color="#e2908b"/><stop offset="0.8791" stop-color="#d3baba"/><stop offset="0.8839" stop-color="#c9c2ca"/><stop offset="0.8886" stop-color="#c3c3d1"/><stop offset="0.8981" stop-color="#b8b8d4"/><stop offset="0.9123" stop-color="#b0b0d5"/><stop offset="0.9739" stop-color="#a2a2d9"/><stop offset="0.9976" stop-color="#a2a2d9"/></linearGradient><linearGradient id="gb47"><stop offset="0.0024" stop-color="#8484e0"/><stop offset="0.0261" stop-color="#7b7be2"/><stop offset="0.0545" stop-color="#6767e7"/><stop offset="0.0687" stop-color="#6a6ae6"/><stop offset="0.0877" stop-color="#7c7ce2"/><stop offset="0.1351" stop-color="#b9b9d3"/><stop offset="0.1635" stop-color="#d4d3cc"/><stop offset="0.1967" stop-color="#d9bab4"/><stop offset="0.2346" stop-color="#dda5a0"/><stop offset="0.3057" stop-color="#e38c87"/><stop offset="0.5000" stop-color="#ea6663"/><stop offset="0.6706" stop-color="#ed5754"/><stop offset="0.6754" stop-color="#772ba8"/><stop offset="0.7180" stop-color="#7729a6"/><stop offset="0.7275" stop-color="#0000fb"/><stop offset="0.7891" stop-color="#0000fa"/><stop offset="0.7986" stop-color="#a1a1d9"/><stop offset="0.8318" stop-color="#9999db"/><stop offset="0.8507" stop-color="#8888df"/><stop offset="0.8555" stop-color="#7d7de2"/><stop offset="0.8602" stop-color="#6767e7"/><stop offset="0.8649" stop-color="#3b3bef"/><stop offset="0.8697" stop-color="#0a0af8"/><stop offset="0.8744" stop-color="#5353eb"/><stop offset="0.8791" stop-color="#7474e4"/><stop offset="0.8839" stop-color="#8383e0"/><stop offset="0.8886" stop-color="#8b8bde"/><stop offset="0.9171" stop-color="#9898db"/><stop offset="0.9976" stop-color="#9e9eda"/></linearGradient><linearGradient id="gb48"><stop offset="0.0024" stop-color="#8383e0"/><stop offset="0.0308" stop-color="#7676e3"/><stop offset="0.0545" stop-color="#5a5aea"/><stop offset="0.0640" stop-color="#5b5bea"/><stop offset="0.0829" stop-color="#6f6fe5"/><stop offset="0.1303" stop-color="#b4b4d5"/><stop offset="0.1588" stop-color="#d2d2ce"/><stop offset="0.1635" stop-color="#d4d2cb"/><stop offset="0.2156" stop-color="#dcaea8"/><stop offset="0.2820" stop-color="#e2918c"/><stop offset="0.5000" stop-color="#ea6663"/><stop offset="0.5758" stop-color="#ec5f5c"/><stop offset="0.5806" stop-color="#762fad"/><stop offset="0.6185" stop-color="#762eab"/><stop offset="0.6280" stop-color="#0000fd"/><stop offset="0.7891" stop-color="#0000fa"/><stop offset="0.7986" stop-color="#8a8ade"/><stop offset="0.8223" stop-color="#7a7ae2"/><stop offset="0.8365" stop-color="#6666e7"/><stop offset="0.8460" stop-color="#4d4ded"/><stop offset="0.8507" stop-color="#3737f2"/><stop offset="0.8555" stop-color="#1919f8"/><stop offset="0.8602" stop-color="#0202f9"/><stop offset="0.8697" stop-color="#0000f3"/><stop offset="0.8744" stop-color="#0f0ffc"/><stop offset="0.8886" stop-color="#5555eb"/><stop offset="0.8934" stop-color="#6363e8"/><stop offset="0.9028" stop-color="#7474e4"/><stop offset="0.9171" stop-color="#8282e0"/><stop offset="0.9313" stop-color="#8989df"/><stop offset="0.9976" stop-color="#9999db"/></linearGradient><linearGradient id="gb49"><stop offset="0.0024" stop-color="#8383e0"/><stop offset="0.0213" stop-color="#7c7ce2"/><stop offset="0.0308" stop-color="#7373e4"/><stop offset="0.0498" stop-color="#4e4eed"/><stop offset="0.0592" stop-color="#4545ef"/><stop offset="0.0687" stop-color="#4f4fec"/><stop offset="0.1209" stop-color="#a7a7d8"/><stop offset="0.1588" stop-color="#d3d3cd"/><stop offset="0.2062" stop-color="#dbb2ac"/><stop offset="0.2725" stop-color="#e1928d"/><stop offset="0.5000" stop-color="#ea6663"/><stop offset="0.5095" stop-color="#7533b0"/><stop offset="0.5379" stop-color="#7531af"/><stop offset="0.5427" stop-color="#0000fe"/><stop offset="0.7891" stop-color="#0000fa"/><stop offset="0.7986" stop-color="#7474e4"/><stop offset="0.8128" stop-color="#6666e7"/><stop offset="0.8270" stop-color="#5151ec"/><stop offset="0.8365" stop-color="#3939f1"/><stop offset="0.8507" stop-color="#0303fa"/><stop offset="0.8697" stop-color="#0000f2"/><stop offset="0.8744" stop-color="#0303fd"/><stop offset="0.8981" stop-color="#4b4bed"/><stop offset="0.9076" stop-color="#5f5fe9"/><stop offset="0.9171" stop-color="#6c6ce6"/><stop offset="0.9550" stop-color="#8585e0"/><stop offset="0.9976" stop-color="#9494dc"/></linearGradient><linearGradient id="gb50"><stop offset="0.0024" stop-color="#8383e0"/><stop offset="0.0213" stop-color="#7b7be2"/><stop offset="0.0308" stop-color="#7171e4"/><stop offset="0.0403" stop-color="#5a5aea"/><stop offset="0.0498" stop-color="#3939f2"/><stop offset="0.0545" stop-color="#2e2ef4"/><stop offset="0.0592" stop-color="#2c2cf5"/><stop offset="0.0640" stop-color="#3232f3"/><stop offset="0.0877" stop-color="#6868e6"/><stop offset="0.1161" stop-color="#9f9fd9"/><stop offset="0.1351" stop-color="#bbbbd3"/><stop offset="0.1588" stop-color="#d4d3cd"/><stop offset="0.2014" stop-color="#dbb3ad"/><stop offset="0.2678" stop-color="#e1928d"/><stop offset="0.4526" stop-color="#e96f6b"/><stop offset="0.4621" stop-color="#783ab3"/><stop offset="0.4763" stop-color="#7738b2"/><stop offset="0.4858" stop-color="#0303fe"/><stop offset="0.7891" stop-color="#0000fa"/><stop offset="0.7938" stop-color="#1a1af5"/><stop offset="0.7986" stop-color="#5e5ee9"/><stop offset="0.8128" stop-color="#4c4ced"/><stop offset="0.8223" stop-color="#3a3af1"/><stop offset="0.8412" stop-color="#0303fb"/><stop offset="0.8697" stop-color="#0000f1"/><stop offset="0.8744" stop-color="#0000fb"/><stop offset="0.8791" stop-color="#0909fd"/><stop offset="0.8886" stop-color="#1f1ff8"/><stop offset="0.8981" stop-color="#2e2ef4"/><stop offset="0.9076" stop-color="#4646ee"/><stop offset="0.9218" stop-color="#5d5de9"/><stop offset="0.9597" stop-color="#7e7ee1"/><stop offset="0.9976" stop-color="#8f8fdd"/></linearGradient><linearGradient id="gb51"><stop offset="0.0024" stop-color="#8282e0"/><stop offset="0.0213" stop-color="#7c7ce2"/><stop offset="0.0308" stop-color="#7070e4"/><stop offset="0.0355" stop-color="#6464e7"/><stop offset="0.0403" stop-color="#5252ec"/><stop offset="0.0498" stop-color="#2323f7"/><stop offset="0.0545" stop-color="#1313fb"/><stop offset="0.0592" stop-color="#0f0ffb"/><stop offset="0.0640" stop-color="#1818f9"/><stop offset="0.0782" stop-color="#4747ee"/><stop offset="0.0877" stop-color="#6161e8"/><stop offset="0.1066" stop-color="#8d8dde"/><stop offset="0.1256" stop-color="#afafd6"/><stop offset="0.1540" stop-color="#d1d1ce"/><stop offset="0.1588" stop-color="#d4d2cb"/><stop offset="0.2014" stop-color="#dbb1ac"/><stop offset="0.2630" stop-color="#e1928d"/><stop offset="0.4100" stop-color="#e77672"/><stop offset="0.4194" stop-color="#7b42b6"/><stop offset="0.4336" stop-color="#7a3fb5"/><stop offset="0.4384" stop-color="#0b0bfc"/><stop offset="0.5047" stop-color="#0000ff"/><stop offset="0.7938" stop-color="#0000fa"/><stop offset="0.7986" stop-color="#4949ee"/><stop offset="0.8128" stop-color="#3232f3"/><stop offset="0.8318" stop-color="#0303fc"/><stop offset="0.8697" stop-color="#0000f0"/><stop offset="0.8744" stop-color="#0000f8"/><stop offset="0.8791" stop-color="#0303fe"/><stop offset="0.8886" stop-color="#1616fa"/><stop offset="0.9028" stop-color="#2828f6"/><stop offset="0.9171" stop-color="#4343ef"/><stop offset="0.9313" stop-color="#5757ea"/><stop offset="0.9597" stop-color="#7575e3"/><stop offset="0.9976" stop-color="#8a8adf"/></linearGradient><linearGradient id="gb52"><stop offset="0.0024" stop-color="#8282e0"/><stop offset="0.0213" stop-color="#7d7de2"/><stop offset="0.0308" stop-color="#7272e4"/><stop offset="0.0355" stop-color="#6565e7"/><stop offset="0.0403" stop-color="#5050ec"/><stop offset="0.0498" stop-color="#1414fa"/><stop offset="0.0545" stop-color="#0101fb"/><stop offset="0.0592" stop-color="#0000f7"/><stop offset="0.0640" stop-color="#0202fb"/><stop offset="0.0687" stop-color="#1010fb"/><stop offset="0.0782" stop-color="#3939f2"/><stop offset="0.0877" stop-color="#5a5aea"/><stop offset="0.1066" stop-color="#8c8cde"/><stop offset="0.1256" stop-color="#b1b1d5"/><stop offset="0.1540" stop-color="#d3d3cd"/><stop offset="0.2014" stop-color="#dbafaa"/><stop offset="0.2630" stop-color="#e2918c"/><stop offset="0.3626" stop-color="#e57f7b"/><stop offset="0.3673" stop-color="#804cb9"/><stop offset="0.3863" stop-color="#7e48b8"/><stop offset="0.3957" stop-color="#1414fa"/><stop offset="0.5047" stop-color="#0000ff"/><stop offset="0.7938" stop-color="#0000fa"/><stop offset="0.7986" stop-color="#2828f4"/><stop offset="0.8033" stop-color="#2c2cf5"/><stop offset="0.8223" stop-color="#0404fc"/><stop offset="0.8270" stop-color="#0000fa"/><stop offset="0.8697" stop-color="#0000f0"/><stop offset="0.8744" stop-color="#0000f6"/><stop offset="0.8791" stop-color="#0000fd"/><stop offset="0.8839" stop-color="#0707fd"/><stop offset="0.8981" stop-color="#1d1df8"/><stop offset="0.9123" stop-color="#2a2af5"/><stop offset="0.9550" stop-color="#6868e6"/><stop offset="0.9739" stop-color="#7878e3"/><stop offset="0.9976" stop-color="#8585e0"/></linearGradient><linearGradient id="gb53"><stop offset="0.0024" stop-color="#8282e0"/><stop offset="0.0261" stop-color="#7c7ce2"/><stop offset="0.0355" stop-color="#6a6ae6"/><stop offset="0.0403" stop-color="#5757eb"/><stop offset="0.0450" stop-color="#3a3af1"/><stop offset="0.0498" stop-color="#1313fb"/><stop offset="0.0545" stop-color="#0000f0"/><stop offset="0.0592" stop-color="#0000e5"/><stop offset="0.0640" stop-color="#0000ed"/><stop offset="0.0687" stop-color="#0101fa"/><stop offset="0.0735" stop-color="#1313fb"/><stop offset="0.0829" stop-color="#4040f0"/><stop offset="0.0924" stop-color="#6565e7"/><stop offset="0.1019" stop-color="#8080e1"/><stop offset="0.1256" stop-color="#b4b4d5"/><stop offset="0.1493" stop-color="#d1d1ce"/><stop offset="0.1540" stop-color="#d4d3cc"/><stop offset="0.1919" stop-color="#dab4ae"/><stop offset="0.2630" stop-color="#e2918c"/><stop offset="0.3104" stop-color="#e38884"/><stop offset="0.3152" stop-color="#8557bc"/><stop offset="0.3341" stop-color="#8353bb"/><stop offset="0.3436" stop-color="#2020f7"/><stop offset="0.5000" stop-color="#0000ff"/><stop offset="0.7938" stop-color="#0000fa"/><stop offset="0.7986" stop-color="#0909f9"/><stop offset="0.8033" stop-color="#1818f9"/><stop offset="0.8128" stop-color="#0404fd"/><stop offset="0.8175" stop-color="#0000fb"/><stop offset="0.8697" stop-color="#0000f0"/><stop offset="0.8791" stop-color="#0000fb"/><stop offset="0.8839" stop-color="#0303fe"/><stop offset="0.9028" stop-color="#1c1cf8"/><stop offset="0.9218" stop-color="#2b2bf5"/><stop offset="0.9597" stop-color="#6565e7"/><stop offset="0.9976" stop-color="#7f7fe1"/></linearGradient><linearGradient id="gb54"><stop offset="0.0024" stop-color="#8282e0"/><stop offset="0.0261" stop-color="#8181e1"/><stop offset="0.0355" stop-color="#7676e3"/><stop offset="0.0403" stop-color="#6868e6"/><stop offset="0.0450" stop-color="#5353eb"/><stop offset="0.0498" stop-color="#2d2df4"/><stop offset="0.0545" stop-color="#0000df"/><stop offset="0.0592" stop-color="#0000cf"/><stop offset="0.0687" stop-color="#0000f1"/><stop offset="0.0735" stop-color="#0808fd"/><stop offset="0.0829" stop-color="#3939f2"/><stop offset="0.0924" stop-color="#6464e8"/><stop offset="0.0972" stop-color="#7474e4"/><stop offset="0.1256" stop-color="#b5b5d4"/><stop offset="0.1493" stop-color="#d1d1ce"/><stop offset="0.1540" stop-color="#d4d2cb"/><stop offset="0.1919" stop-color="#dab4ae"/><stop offset="0.2441" stop-color="#e09a95"/><stop offset="0.2536" stop-color="#8c66c1"/><stop offset="0.2773" stop-color="#895fbf"/><stop offset="0.2867" stop-color="#2e2ef4"/><stop offset="0.4052" stop-color="#1212fb"/><stop offset="0.5000" stop-color="#0000ff"/><stop offset="0.7986" stop-color="#0000fd"/><stop offset="0.8033" stop-color="#0404fd"/><stop offset="0.8128" stop-color="#0000f9"/><stop offset="0.8697" stop-color="#0000f0"/><stop offset="0.8839" stop-color="#0101fe"/><stop offset="0.9028" stop-color="#1818f9"/><stop offset="0.9313" stop-color="#2c2cf5"/><stop offset="0.9455" stop-color="#4a4aee"/><stop offset="0.9597" stop-color="#5e5ee9"/><stop offset="0.9976" stop-color="#7a7ae2"/></linearGradient><linearGradient id="gb55"><stop offset="0.0024" stop-color="#8282e0"/><stop offset="0.0261" stop-color="#8686df"/><stop offset="0.0450" stop-color="#8383e0"/><stop offset="0.0498" stop-color="#8686df"/><stop offset="0.0545" stop-color="#833d9a"/><stop offset="0.0592" stop-color="#7e086f"/><stop offset="0.0687" stop-color="#762ea7"/><stop offset="0.0735" stop-color="#784abf"/><stop offset="0.0829" stop-color="#8880d8"/><stop offset="0.0877" stop-color="#4f4fec"/><stop offset="0.0972" stop-color="#7474e4"/><stop offset="0.1209" stop-color="#acacd6"/><stop offset="0.1493" stop-color="#d1d1ce"/><stop offset="0.1540" stop-color="#d4d2cb"/><stop offset="0.1635" stop-color="#9792d7"/><stop offset="0.2062" stop-color="#927aca"/><stop offset="0.2109" stop-color="#4646ee"/><stop offset="0.2678" stop-color="#3232f3"/><stop offset="0.4052" stop-color="#1212fb"/><stop offset="0.5284" stop-color="#0000ff"/><stop offset="0.7986" stop-color="#0000fb"/><stop offset="0.8697" stop-color="#0000f0"/><stop offset="0.8839" stop-color="#0000fd"/><stop offset="0.9076" stop-color="#1818f9"/><stop offset="0.9313" stop-color="#2727f6"/><stop offset="0.9502" stop-color="#4c4ced"/><stop offset="0.9645" stop-color="#5d5de9"/><stop offset="0.9976" stop-color="#7575e3"/></linearGradient><linearGradient id="gb56"><stop offset="0.0024" stop-color="#8282e0"/><stop offset="0.0261" stop-color="#8c8cde"/><stop offset="0.0355" stop-color="#9494dc"/><stop offset="0.0403" stop-color="#9e9eda"/><stop offset="0.0450" stop-color="#b2b2d5"/><stop offset="0.0498" stop-color="#d2c2c2"/><stop offset="0.0545" stop-color="#e8706c"/><stop offset="0.0592" stop-color="#f53230"/><stop offset="0.0640" stop-color="#f62c2a"/><stop offset="0.0687" stop-color="#ef4d4a"/><stop offset="0.0735" stop-color="#e57f7a"/><stop offset="0.0782" stop-color="#dda7a1"/><stop offset="0.0829" stop-color="#d7c5be"/><stop offset="0.0877" stop-color="#c8c8d0"/><stop offset="0.0924" stop-color="#aeaed6"/><stop offset="0.0972" stop-color="#9d9dda"/><stop offset="0.1256" stop-color="#6d6de5"/><stop offset="0.1730" stop-color="#5454eb"/><stop offset="0.2678" stop-color="#3232f3"/><stop offset="0.4052" stop-color="#1212fb"/><stop offset="0.4905" stop-color="#0303fe"/><stop offset="0.7986" stop-color="#0000fa"/><stop offset="0.8697" stop-color="#0000ef"/><stop offset="0.8839" stop-color="#0000fc"/><stop offset="0.8886" stop-color="#0101fe"/><stop offset="0.9076" stop-color="#1414fa"/><stop offset="0.9313" stop-color="#2525f6"/><stop offset="0.9455" stop-color="#3f3ff0"/><stop offset="0.9597" stop-color="#5353eb"/><stop offset="0.9976" stop-color="#7070e5"/></linearGradient><linearGradient id="gb57"><stop offset="0.0024" stop-color="#8282e0"/><stop offset="0.0308" stop-color="#9696dc"/><stop offset="0.0355" stop-color="#9f9fd9"/><stop offset="0.0403" stop-color="#b0b0d6"/><stop offset="0.0450" stop-color="#cccace"/><stop offset="0.0498" stop-color="#dcaea8"/><stop offset="0.0545" stop-color="#e77672"/><stop offset="0.0592" stop-color="#ef4f4c"/><stop offset="0.0640" stop-color="#f04947"/><stop offset="0.0687" stop-color="#ec5f5c"/><stop offset="0.0782" stop-color="#dda7a2"/><stop offset="0.0829" stop-color="#d7c6bf"/><stop offset="0.0877" stop-color="#c7c7d0"/><stop offset="0.0924" stop-color="#afafd6"/><stop offset="0.0972" stop-color="#9e9eda"/><stop offset="0.1019" stop-color="#9494dc"/><stop offset="0.1256" stop-color="#6d6de5"/><stop offset="0.1730" stop-color="#5454eb"/><stop offset="0.2678" stop-color="#3232f3"/><stop offset="0.4005" stop-color="#1313fa"/><stop offset="0.4858" stop-color="#0505fe"/><stop offset="0.5569" stop-color="#0000ff"/><stop offset="0.7938" stop-color="#0000fa"/><stop offset="0.8697" stop-color="#0000ef"/><stop offset="0.8886" stop-color="#0000fe"/><stop offset="0.9265" stop-color="#1f1ff8"/><stop offset="0.9502" stop-color="#4343ef"/><stop offset="0.9645" stop-color="#5353eb"/><stop offset="0.9976" stop-color="#6c6ce6"/></linearGradient><linearGradient id="gb58"><stop offset="0.0024" stop-color="#8282e0"/><stop offset="0.0213" stop-color="#8e8edd"/><stop offset="0.0308" stop-color="#9a9adb"/><stop offset="0.0355" stop-color="#a5a5d8"/><stop offset="0.0403" stop-color="#b8b8d4"/><stop offset="0.0450" stop-color="#d2cbc9"/><stop offset="0.0498" stop-color="#ddaaa4"/><stop offset="0.0545" stop-color="#e5807c"/><stop offset="0.0592" stop-color="#ea6662"/><stop offset="0.0640" stop-color="#eb6461"/><stop offset="0.0687" stop-color="#e67975"/><stop offset="0.0782" stop-color="#dab6b0"/><stop offset="0.0829" stop-color="#d4cec9"/><stop offset="0.0877" stop-color="#c2c2d1"/><stop offset="0.0972" stop-color="#a1a1d9"/><stop offset="0.1209" stop-color="#7676e3"/><stop offset="0.1635" stop-color="#5959ea"/><stop offset="0.2725" stop-color="#3232f3"/><stop offset="0.4005" stop-color="#1414fa"/><stop offset="0.4810" stop-color="#0606fe"/><stop offset="0.5664" stop-color="#0000ff"/><stop offset="0.7844" stop-color="#0000fa"/><stop offset="0.8697" stop-color="#0000ef"/><stop offset="0.8886" stop-color="#0000fd"/><stop offset="0.9218" stop-color="#1919f9"/><stop offset="0.9645" stop-color="#4f4fec"/><stop offset="0.9976" stop-color="#6767e7"/></linearGradient><linearGradient id="gb59"><stop offset="0.0024" stop-color="#8282e0"/><stop offset="0.0213" stop-color="#9090dd"/><stop offset="0.0308" stop-color="#9c9cda"/><stop offset="0.0355" stop-color="#a7a7d8"/><stop offset="0.0403" stop-color="#b8b8d4"/><stop offset="0.0450" stop-color="#d0cccc"/><stop offset="0.0498" stop-color="#dab5af"/><stop offset="0.0545" stop-color="#e19691"/><stop offset="0.0592" stop-color="#e4837f"/><stop offset="0.0640" stop-color="#e48480"/><stop offset="0.0687" stop-color="#e19691"/><stop offset="0.0782" stop-color="#d7c7c1"/><stop offset="0.0829" stop-color="#cdcccf"/><stop offset="0.0972" stop-color="#a1a1d9"/><stop offset="0.1209" stop-color="#7878e3"/><stop offset="0.1398" stop-color="#6868e6"/><stop offset="0.1730" stop-color="#5656eb"/><stop offset="0.2678" stop-color="#3333f3"/><stop offset="0.3910" stop-color="#1616fa"/><stop offset="0.4905" stop-color="#0505fe"/><stop offset="0.5711" stop-color="#0000ff"/><stop offset="0.7891" stop-color="#0000fa"/><stop offset="0.8697" stop-color="#0000ef"/><stop offset="0.8934" stop-color="#0000fe"/><stop offset="0.9171" stop-color="#1313fb"/><stop offset="0.9645" stop-color="#4b4bed"/><stop offset="0.9976" stop-color="#6363e8"/></linearGradient><linearGradient id="gb60"><stop offset="0.0024" stop-color="#8181e0"/><stop offset="0.0308" stop-color="#9c9cda"/><stop offset="0.0403" stop-color="#b3b3d5"/><stop offset="0.0450" stop-color="#c7c7d0"/><stop offset="0.0498" stop-color="#d6c9c3"/><stop offset="0.0545" stop-color="#dbb4ae"/><stop offset="0.0592" stop-color="#dda7a2"/><stop offset="0.0640" stop-color="#dda8a3"/><stop offset="0.0735" stop-color="#d7c6c0"/><stop offset="0.0782" stop-color="#cfcecd"/><stop offset="0.0972" stop-color="#9f9fd9"/><stop offset="0.1209" stop-color="#7a7ae2"/><stop offset="0.1445" stop-color="#6666e7"/><stop offset="0.1777" stop-color="#5454eb"/><stop offset="0.2678" stop-color="#3434f3"/><stop offset="0.3910" stop-color="#1616fa"/><stop offset="0.4905" stop-color="#0606fe"/><stop offset="0.5806" stop-color="#0000ff"/><stop offset="0.7844" stop-color="#0000fa"/><stop offset="0.8697" stop-color="#0000ef"/><stop offset="0.8934" stop-color="#0000fe"/><stop offset="0.9123" stop-color="#0e0efc"/><stop offset="0.9645" stop-color="#4848ee"/><stop offset="0.9976" stop-color="#5f5fe9"/></linearGradient><linearGradient id="gb61"><stop offset="0.0024" stop-color="#8181e1"/><stop offset="0.0308" stop-color="#9b9bda"/><stop offset="0.0403" stop-color="#acacd6"/><stop offset="0.0498" stop-color="#c9c9d0"/><stop offset="0.0545" stop-color="#d3cdc9"/><stop offset="0.0592" stop-color="#d6c9c2"/><stop offset="0.0640" stop-color="#d6c9c3"/><stop offset="0.0735" stop-color="#cccccf"/><stop offset="0.0972" stop-color="#9c9cda"/><stop offset="0.1209" stop-color="#7b7be2"/><stop offset="0.1493" stop-color="#6464e7"/><stop offset="0.1872" stop-color="#5151ec"/><stop offset="0.2725" stop-color="#3333f3"/><stop offset="0.3910" stop-color="#1717fa"/><stop offset="0.4905" stop-color="#0606fd"/><stop offset="0.5758" stop-color="#0101ff"/><stop offset="0.7844" stop-color="#0000fb"/><stop offset="0.8697" stop-color="#0000ef"/><stop offset="0.8981" stop-color="#0101ff"/><stop offset="0.9597" stop-color="#4040f0"/><stop offset="0.9976" stop-color="#5b5bea"/></linearGradient><linearGradient id="gb62"><stop offset="0.0024" stop-color="#8181e1"/><stop offset="0.0308" stop-color="#9999db"/><stop offset="0.0545" stop-color="#c0c0d2"/><stop offset="0.0640" stop-color="#c6c6d0"/><stop offset="0.0735" stop-color="#bcbcd3"/><stop offset="0.1114" stop-color="#8686df"/><stop offset="0.1303" stop-color="#7272e4"/><stop offset="0.1588" stop-color="#5f5fe9"/><stop offset="0.2014" stop-color="#4b4bed"/><stop offset="0.2773" stop-color="#3232f3"/><stop offset="0.3910" stop-color="#1717fa"/><stop offset="0.4858" stop-color="#0707fd"/><stop offset="0.5664" stop-color="#0202ff"/><stop offset="0.7796" stop-color="#0000fb"/><stop offset="0.8697" stop-color="#0000ef"/><stop offset="0.8934" stop-color="#0000fc"/><stop offset="0.8981" stop-color="#0101ff"/><stop offset="0.9597" stop-color="#3e3ef0"/><stop offset="0.9976" stop-color="#5656eb"/></linearGradient><linearGradient id="gb63"><stop offset="0.0024" stop-color="#8181e1"/><stop offset="0.0308" stop-color="#9797db"/><stop offset="0.0545" stop-color="#b1b1d5"/><stop offset="0.0640" stop-color="#b5b5d4"/><stop offset="0.0782" stop-color="#acacd7"/><stop offset="0.1161" stop-color="#7f7fe1"/><stop offset="0.1398" stop-color="#6b6be6"/><stop offset="0.1730" stop-color="#5858ea"/><stop offset="0.2251" stop-color="#4343ef"/><stop offset="0.2962" stop-color="#2d2df4"/><stop offset="0.4005" stop-color="#1515fa"/><stop offset="0.4858" stop-color="#0808fd"/><stop offset="0.5616" stop-color="#0202fe"/><stop offset="0.7749" stop-color="#0000fb"/><stop offset="0.8649" stop-color="#0000f2"/><stop offset="0.8934" stop-color="#0000fe"/><stop offset="0.9597" stop-color="#3b3bf1"/><stop offset="0.9976" stop-color="#5252ec"/></linearGradient><linearGradient id="gb64"><stop offset="0.0024" stop-color="#8080e1"/><stop offset="0.0545" stop-color="#a7a7d8"/><stop offset="0.0687" stop-color="#a9a9d7"/><stop offset="0.0829" stop-color="#a0a0d9"/><stop offset="0.1209" stop-color="#7a7ae2"/><stop offset="0.1493" stop-color="#6565e7"/><stop offset="0.2393" stop-color="#3e3ef0"/><stop offset="0.4052" stop-color="#1515fa"/><stop offset="0.5521" stop-color="#0303fe"/><stop offset="0.7607" stop-color="#0000fc"/><stop offset="0.8602" stop-color="#0000f4"/><stop offset="0.8934" stop-color="#0101ff"/><stop offset="0.9597" stop-color="#3939f2"/><stop offset="0.9976" stop-color="#4e4eed"/></linearGradient><linearGradient id="gb65"><stop offset="0.0024" stop-color="#8080e1"/><stop offset="0.0498" stop-color="#9e9eda"/><stop offset="0.0687" stop-color="#a1a1d9"/><stop offset="0.0829" stop-color="#9a9adb"/><stop offset="0.1256" stop-color="#7575e3"/><stop offset="0.1540" stop-color="#6262e8"/><stop offset="0.2488" stop-color="#3b3bf1"/><stop offset="0.4052" stop-color="#1515fa"/><stop offset="0.5474" stop-color="#0404fe"/><stop offset="0.7370" stop-color="#0000fd"/><stop offset="0.8555" stop-color="#0000f6"/><stop offset="0.8886" stop-color="#0000fe"/><stop offset="0.9597" stop-color="#3737f2"/><stop offset="0.9976" stop-color="#4a4aee"/></linearGradient><linearGradient id="gb66"><stop offset="0.0024" stop-color="#8080e1"/><stop offset="0.0498" stop-color="#9999db"/><stop offset="0.0687" stop-color="#9b9bda"/><stop offset="0.0877" stop-color="#9292dc"/><stop offset="0.1588" stop-color="#6060e8"/><stop offset="0.2536" stop-color="#3939f1"/><stop offset="0.4052" stop-color="#1515fa"/><stop offset="0.5427" stop-color="#0404fe"/><stop offset="0.6896" stop-color="#0000fe"/><stop offset="0.8507" stop-color="#0000f8"/><stop offset="0.8839" stop-color="#0000fe"/><stop offset="0.9645" stop-color="#3838f2"/><stop offset="0.9976" stop-color="#4646ef"/></linearGradient><linearGradient id="gb67"><stop offset="0.0024" stop-color="#7f7fe1"/><stop offset="0.0498" stop-color="#9494dc"/><stop offset="0.0735" stop-color="#9595dc"/><stop offset="0.1682" stop-color="#5b5bea"/><stop offset="0.2630" stop-color="#3737f2"/><stop offset="0.4100" stop-color="#1414fa"/><stop offset="0.5427" stop-color="#0505fe"/><stop offset="0.8460" stop-color="#0000f9"/><stop offset="0.8839" stop-color="#0000ff"/><stop offset="0.9645" stop-color="#3737f2"/><stop offset="0.9976" stop-color="#4343ef"/></linearGradient><linearGradient id="gb68"><stop offset="0.0024" stop-color="#7e7ee1"/><stop offset="0.0498" stop-color="#9090dd"/><stop offset="0.0735" stop-color="#9090dd"/><stop offset="0.1730" stop-color="#5858ea"/><stop offset="0.2678" stop-color="#3535f2"/><stop offset="0.4100" stop-color="#1515fa"/><stop offset="0.5427" stop-color="#0505fe"/><stop offset="0.8412" stop-color="#0000fa"/><stop offset="0.8791" stop-color="#0000ff"/><stop offset="0.9645" stop-color="#3535f3"/><stop offset="0.9976" stop-color="#4242ef"/></linearGradient><linearGradient id="gb69"><stop offset="0.0024" stop-color="#7d7de2"/><stop offset="0.0450" stop-color="#8c8cde"/><stop offset="0.0735" stop-color="#8c8cde"/><stop offset="0.1825" stop-color="#5454eb"/><stop offset="0.2773" stop-color="#3232f3"/><stop offset="0.4147" stop-color="#1414fa"/><stop offset="0.5427" stop-color="#0505fe"/><stop offset="0.8365" stop-color="#0000fb"/><stop offset="0.8744" stop-color="#0000ff"/><stop offset="0.9645" stop-color="#3333f3"/><stop offset="0.9976" stop-color="#4141f0"/></linearGradient><linearGradient id="gb70"><stop offset="0.0024" stop-color="#7c7ce2"/><stop offset="0.0450" stop-color="#8888df"/><stop offset="0.0735" stop-color="#8888df"/><stop offset="0.1872" stop-color="#5252ec"/><stop offset="0.2820" stop-color="#3131f3"/><stop offset="0.4147" stop-color="#1414fa"/><stop offset="0.5427" stop-color="#0606fe"/><stop offset="0.8697" stop-color="#0000ff"/><stop offset="0.9976" stop-color="#4040f0"/></linearGradient><linearGradient id="gb71"><stop offset="0.0024" stop-color="#7b7be2"/><stop offset="0.0450" stop-color="#8686e0"/><stop offset="0.0735" stop-color="#8585e0"/><stop offset="0.1967" stop-color="#4e4eed"/><stop offset="0.2867" stop-color="#3030f4"/><stop offset="0.4194" stop-color="#1414fa"/><stop offset="0.5427" stop-color="#0606fe"/><stop offset="0.8649" stop-color="#0000ff"/><stop offset="0.8934" stop-color="#0a0afd"/><stop offset="0.9976" stop-color="#3f3ff0"/></linearGradient><linearGradient id="gb72"><stop offset="0.0024" stop-color="#7a7ae2"/><stop offset="0.0450" stop-color="#8383e0"/><stop offset="0.0782" stop-color="#8181e1"/><stop offset="0.2062" stop-color="#4a4aee"/><stop offset="0.2915" stop-color="#2e2ef4"/><stop offset="0.4194" stop-color="#1414fa"/><stop offset="0.5427" stop-color="#0606fe"/><stop offset="0.8602" stop-color="#0000ff"/><stop offset="0.8934" stop-color="#0b0bfc"/><stop offset="0.9976" stop-color="#3e3ef0"/></linearGradient><linearGradient id="gb73"><stop offset="0.0024" stop-color="#7979e2"/><stop offset="0.0450" stop-color="#8080e1"/><stop offset="0.0782" stop-color="#7e7ee1"/><stop offset="0.2156" stop-color="#4646ee"/><stop offset="0.2962" stop-color="#2d2df4"/><stop offset="0.4194" stop-color="#1414fa"/><stop offset="0.5379" stop-color="#0707fd"/><stop offset="0.8555" stop-color="#0101ff"/><stop offset="0.8934" stop-color="#0c0cfc"/><stop offset="0.9976" stop-color="#3d3df1"/></linearGradient><linearGradient id="gb74"><stop offset="0.0024" stop-color="#7878e3"/><stop offset="0.0450" stop-color="#7e7ee1"/><stop offset="0.0782" stop-color="#7c7ce2"/><stop offset="0.2204" stop-color="#4444ef"/><stop offset="0.2962" stop-color="#2d2df4"/><stop offset="0.4194" stop-color="#1414fa"/><stop offset="0.5379" stop-color="#0707fd"/><stop offset="0.8460" stop-color="#0000ff"/><stop offset="0.8934" stop-color="#0c0cfc"/><stop offset="0.9976" stop-color="#3c3cf1"/></linearGradient><linearGradient id="gb75"><stop offset="0.0024" stop-color="#7777e3"/><stop offset="0.0450" stop-color="#7c7ce2"/><stop offset="0.0782" stop-color="#7979e2"/><stop offset="0.2299" stop-color="#4141f0"/><stop offset="0.3009" stop-color="#2c2cf5"/><stop offset="0.4242" stop-color="#1313fa"/><stop offset="0.5379" stop-color="#0707fd"/><stop offset="0.8460" stop-color="#0101ff"/><stop offset="0.8934" stop-color="#0d0dfc"/><stop offset="0.9976" stop-color="#3b3bf1"/></linearGradient><linearGradient id="gb76"><stop offset="0.0024" stop-color="#7676e3"/><stop offset="0.0498" stop-color="#7a7ae2"/><stop offset="0.0829" stop-color="#7676e3"/><stop offset="0.2346" stop-color="#3f3ff0"/><stop offset="0.3009" stop-color="#2b2bf5"/><stop offset="0.4242" stop-color="#1414fa"/><stop offset="0.5379" stop-color="#0707fd"/><stop offset="0.8412" stop-color="#0101ff"/><stop offset="0.8934" stop-color="#0d0dfc"/><stop offset="0.9976" stop-color="#3a3af1"/></linearGradient><linearGradient id="gb77"><stop offset="0.0024" stop-color="#7575e3"/><stop offset="0.0498" stop-color="#7878e3"/><stop offset="0.0829" stop-color="#7474e4"/><stop offset="0.3009" stop-color="#2b2bf5"/><stop offset="0.4242" stop-color="#1414fa"/><stop offset="0.5332" stop-color="#0808fd"/><stop offset="0.8412" stop-color="#0202ff"/><stop offset="0.8934" stop-color="#0d0dfc"/><stop offset="0.9976" stop-color="#3939f2"/></linearGradient><linearGradient id="gb78"><stop offset="0.0024" stop-color="#7474e4"/><stop offset="0.0498" stop-color="#7676e3"/><stop offset="0.0877" stop-color="#7272e4"/><stop offset="0.3057" stop-color="#2a2af5"/><stop offset="0.4289" stop-color="#1313fb"/><stop offset="0.5332" stop-color="#0808fd"/><stop offset="0.8412" stop-color="#0202fe"/><stop offset="0.8981" stop-color="#0f0ffb"/><stop offset="0.9976" stop-color="#3838f2"/></linearGradient><linearGradient id="gb79"><stop offset="0.0024" stop-color="#7373e4"/><stop offset="0.0498" stop-color="#7474e4"/><stop offset="0.0877" stop-color="#7070e5"/><stop offset="0.3009" stop-color="#2b2bf5"/><stop offset="0.4194" stop-color="#1414fa"/><stop offset="0.5284" stop-color="#0808fd"/><stop offset="0.8412" stop-color="#0303fe"/><stop offset="0.8981" stop-color="#0f0ffb"/><stop offset="0.9976" stop-color="#3737f2"/></linearGradient><linearGradient id="gb80"><stop offset="0.0024" stop-color="#7272e4"/><stop offset="0.0545" stop-color="#7272e4"/><stop offset="0.0924" stop-color="#6d6de5"/><stop offset="0.3009" stop-color="#2a2af5"/><stop offset="0.4242" stop-color="#1414fa"/><stop offset="0.5284" stop-color="#0808fd"/><stop offset="0.8412" stop-color="#0303fe"/><stop offset="0.8981" stop-color="#0f0ffb"/><stop offset="0.9976" stop-color="#3636f2"/></linearGradient><linearGradient id="gb81"><stop offset="0.0024" stop-color="#7070e4"/><stop offset="0.0545" stop-color="#7171e4"/><stop offset="0.0972" stop-color="#6b6be6"/><stop offset="0.3009" stop-color="#2a2af5"/><stop offset="0.4194" stop-color="#1515fa"/><stop offset="0.5237" stop-color="#0909fd"/><stop offset="0.8412" stop-color="#0303fe"/><stop offset="0.8981" stop-color="#0f0ffc"/><stop offset="0.9976" stop-color="#3535f3"/></linearGradient><linearGradient id="gb82"><stop offset="0.0024" stop-color="#6f6fe5"/><stop offset="0.0972" stop-color="#6a6ae6"/><stop offset="0.3009" stop-color="#2a2af5"/><stop offset="0.4242" stop-color="#1414fa"/><stop offset="0.5237" stop-color="#0909fd"/><stop offset="0.8412" stop-color="#0303fe"/><stop offset="0.8981" stop-color="#0f0ffc"/><stop offset="0.9976" stop-color="#3434f3"/></linearGradient><linearGradient id="gb83"><stop offset="0.0024" stop-color="#6e6ee5"/><stop offset="0.0592" stop-color="#6d6de5"/><stop offset="0.1066" stop-color="#6767e7"/><stop offset="0.2962" stop-color="#2a2af5"/><stop offset="0.4194" stop-color="#1515fa"/><stop offset="0.5190" stop-color="#0909fd"/><stop offset="0.8460" stop-color="#0404fe"/><stop offset="0.8981" stop-color="#0e0efc"/><stop offset="0.9976" stop-color="#3333f3"/></linearGradient><linearGradient id="gb84"><stop offset="0.0024" stop-color="#6d6de5"/><stop offset="0.1114" stop-color="#6565e7"/><stop offset="0.2962" stop-color="#2a2af5"/><stop offset="0.4194" stop-color="#1515fa"/><stop offset="0.5190" stop-color="#0909fd"/><stop offset="0.8460" stop-color="#0404fe"/><stop offset="0.8981" stop-color="#0e0efc"/><stop offset="0.9976" stop-color="#3232f3"/></linearGradient><linearGradient id="gb85"><stop offset="0.0024" stop-color="#6c6ce5"/><stop offset="0.1161" stop-color="#6363e8"/><stop offset="0.2915" stop-color="#2b2bf5"/><stop offset="0.4147" stop-color="#1515fa"/><stop offset="0.5142" stop-color="#0a0afd"/><stop offset="0.8507" stop-color="#0404fe"/><stop offset="0.9028" stop-color="#0f0ffb"/><stop offset="0.9976" stop-color="#3131f4"/></linearGradient><linearGradient id="gb86"><stop offset="0.0024" stop-color="#6b6be6"/><stop offset="0.1209" stop-color="#6161e8"/><stop offset="0.2867" stop-color="#2b2bf5"/><stop offset="0.5142" stop-color="#0909fd"/><stop offset="0.8507" stop-color="#0404fe"/><stop offset="0.8981" stop-color="#0d0dfc"/><stop offset="0.9976" stop-color="#3030f4"/></linearGradient><linearGradient id="gb87"><stop offset="0.0024" stop-color="#6a6ae6"/><stop offset="0.1303" stop-color="#5f5fe9"/><stop offset="0.2820" stop-color="#2c2cf5"/><stop offset="0.5095" stop-color="#0a0afd"/><stop offset="0.8555" stop-color="#0404fe"/><stop offset="0.9028" stop-color="#0e0efc"/><stop offset="0.9976" stop-color="#2f2ff4"/></linearGradient><linearGradient id="gb88"><stop offset="0.0024" stop-color="#6969e6"/><stop offset="0.1351" stop-color="#5e5ee9"/><stop offset="0.2773" stop-color="#2c2cf5"/><stop offset="0.5095" stop-color="#0909fd"/><stop offset="0.8555" stop-color="#0303fe"/><stop offset="0.8981" stop-color="#0c0cfc"/><stop offset="0.9976" stop-color="#2e2ef4"/></linearGradient><linearGradient id="gb89"><stop offset="0.0024" stop-color="#6868e6"/><stop offset="0.1398" stop-color="#5d5de9"/><stop offset="0.2725" stop-color="#2c2cf5"/><stop offset="0.5047" stop-color="#0909fd"/><stop offset="0.8602" stop-color="#0303fe"/><stop offset="0.8981" stop-color="#0b0bfc"/><stop offset="0.9976" stop-color="#2d2df5"/></linearGradient><linearGradient id="gb90"><stop offset="0.0024" stop-color="#6767e7"/><stop offset="0.1445" stop-color="#5c5ce9"/><stop offset="0.2678" stop-color="#2c2cf5"/><stop offset="0.5047" stop-color="#0909fd"/><stop offset="0.7370" stop-color="#0808fd"/><stop offset="0.8649" stop-color="#0202fe"/><stop offset="0.9976" stop-color="#2b2bf5"/></linearGradient><linearGradient id="gb91"><stop offset="0.0024" stop-color="#6666e7"/><stop offset="0.1445" stop-color="#5d5de9"/><stop offset="0.2678" stop-color="#2a2af5"/><stop offset="0.5047" stop-color="#0909fd"/><stop offset="0.7370" stop-color="#0808fd"/><stop offset="0.8649" stop-color="#0101ff"/><stop offset="0.9976" stop-color="#2a2af5"/></linearGradient><linearGradient id="cbj" x1="0" y1="0" x2="0" y2="1"><stop offset="0.000" stop-color="#800000"/><stop offset="0.120" stop-color="#ff0000"/><stop offset="0.380" stop-color="#ffff00"/><stop offset="0.640" stop-color="#00ffff"/><stop offset="0.890" stop-color="#0000ff"/><stop offset="1.000" stop-color="#00008c"/></linearGradient><linearGradient id="cbw" x1="0" y1="0" x2="0" y2="1"><stop offset="0" stop-color="#8c0000"/><stop offset="0.2" stop-color="#e60000"/><stop offset="0.38" stop-color="#f08080"/><stop offset="0.5" stop-color="#e4e4e4"/><stop offset="0.62" stop-color="#8080f0"/><stop offset="0.78" stop-color="#0000f5"/><stop offset="1" stop-color="#00008c"/></linearGradient></defs><g shape-rendering="crispEdges"><rect x="41" y="29" width="215" height="1" fill="url(#ga0)"/><rect x="41" y="30" width="215" height="1" fill="url(#ga1)"/><rect x="41" y="31" width="215" height="1" fill="url(#ga2)"/><rect x="41" y="32" width="215" height="1" fill="url(#ga3)"/><rect x="41" y="33" width="215" height="1" fill="url(#ga4)"/><rect x="41" y="34" width="215" height="1" fill="url(#ga5)"/><rect x="41" y="35" width="215" height="1" fill="url(#ga6)"/><rect x="41" y="36" width="215" height="1" fill="url(#ga7)"/><rect x="41" y="37" width="215" height="1" fill="url(#ga8)"/><rect x="41" y="38" width="215" height="1" fill="url(#ga9)"/><rect x="41" y="39" width="215" height="1" fill="url(#ga10)"/><rect x="41" y="40" width="215" height="1" fill="url(#ga11)"/><rect x="41" y="41" width="215" height="1" fill="url(#ga12)"/><rect x="41" y="42" width="215" height="1" fill="url(#ga13)"/><rect x="41" y="43" width="215" height="1" fill="url(#ga14)"/><rect x="41" y="44" width="215" height="1" fill="url(#ga15)"/><rect x="41" y="45" width="215" height="1" fill="url(#ga16)"/><rect x="41" y="46" width="215" height="1" fill="url(#ga17)"/><rect x="41" y="47" width="215" height="1" fill="url(#ga18)"/><rect x="41" y="48" width="215" height="1" fill="url(#ga19)"/><rect x="41" y="49" width="215" height="1" fill="url(#ga20)"/><rect x="41" y="50" width="215" height="1" fill="url(#ga21)"/><rect x="41" y="51" width="215" height="1" fill="url(#ga22)"/><rect x="41" y="52" width="215" height="1" fill="url(#ga23)"/><rect x="41" y="53" width="215" height="1" fill="url(#ga24)"/><rect x="41" y="54" width="215" height="1" fill="url(#ga25)"/><rect x="41" y="55" width="215" height="1" fill="url(#ga26)"/><rect x="41" y="56" width="215" height="1" fill="url(#ga27)"/><rect x="41" y="57" width="215" height="1" fill="url(#ga28)"/><rect x="41" y="58" width="215" height="1" fill="url(#ga29)"/><rect x="41" y="59" width="215" height="1" fill="url(#ga30)"/><rect x="41" y="60" width="215" height="1" fill="url(#ga31)"/><rect x="41" y="61" width="215" height="1" fill="url(#ga32)"/><rect x="41" y="62" width="215" height="1" fill="url(#ga33)"/><rect x="41" y="63" width="215" height="1" fill="url(#ga34)"/><rect x="41" y="64" width="215" height="1" fill="url(#ga35)"/><rect x="41" y="65" width="215" height="1" fill="url(#ga36)"/><rect x="41" y="66" width="215" height="1" fill="url(#ga37)"/><rect x="41" y="67" width="215" height="1" fill="url(#ga38)"/><rect x="41" y="68" width="215" height="1" fill="url(#ga39)"/><rect x="41" y="69" width="215" height="1" fill="url(#ga40)"/><rect x="41" y="70" width="215" height="1" fill="url(#ga41)"/><rect x="41" y="71" width="215" height="1" fill="url(#ga42)"/><rect x="41" y="72" width="215" height="1" fill="url(#ga43)"/><rect x="41" y="73" width="215" height="1" fill="url(#ga44)"/><rect x="41" y="74" width="215" height="1" fill="url(#ga45)"/><rect x="41" y="75" width="215" height="1" fill="url(#ga46)"/><rect x="41" y="76" width="215" height="1" fill="url(#ga47)"/><rect x="41" y="77" width="215" height="1" fill="url(#ga48)"/><rect x="41" y="78" width="215" height="1" fill="url(#ga49)"/><rect x="41" y="79" width="215" height="1" fill="url(#ga50)"/><rect x="41" y="80" width="215" height="1" fill="url(#ga51)"/><rect x="41" y="81" width="215" height="1" fill="url(#ga52)"/><rect x="41" y="82" width="215" height="1" fill="url(#ga53)"/><rect x="41" y="83" width="215" height="1" fill="url(#ga54)"/><rect x="41" y="84" width="215" height="1" fill="url(#ga55)"/><rect x="41" y="85" width="215" height="1" fill="url(#ga56)"/><rect x="41" y="86" width="215" height="1" fill="url(#ga57)"/><rect x="41" y="87" width="215" height="1" fill="url(#ga58)"/><rect x="41" y="88" width="215" height="1" fill="url(#ga59)"/><rect x="41" y="89" width="215" height="1" fill="url(#ga60)"/><rect x="41" y="90" width="215" height="1" fill="url(#ga61)"/><rect x="41" y="91" width="215" height="1" fill="url(#ga62)"/><rect x="41" y="92" width="215" height="1" fill="url(#ga63)"/><rect x="41" y="93" width="215" height="1" fill="url(#ga64)"/><rect x="41" y="94" width="215" height="1" fill="url(#ga65)"/><rect x="41" y="95" width="215" height="1" fill="url(#ga66)"/><rect x="41" y="96" width="215" height="1" fill="url(#ga67)"/><rect x="41" y="97" width="215" height="1" fill="url(#ga68)"/><rect x="41" y="98" width="215" height="1" fill="url(#ga69)"/><rect x="41" y="99" width="215" height="1" fill="url(#ga70)"/><rect x="41" y="100" width="215" height="1" fill="url(#ga71)"/><rect x="41" y="101" width="215" height="1" fill="url(#ga72)"/><rect x="41" y="102" width="215" height="1" fill="url(#ga73)"/><rect x="41" y="103" width="215" height="1" fill="url(#ga74)"/><rect x="41" y="104" width="215" height="1" fill="url(#ga75)"/><rect x="41" y="105" width="215" height="1" fill="url(#ga76)"/><rect x="41" y="106" width="215" height="1" fill="url(#ga77)"/><rect x="41" y="107" width="215" height="1" fill="url(#ga78)"/><rect x="41" y="108" width="215" height="1" fill="url(#ga79)"/><rect x="41" y="109" width="215" height="1" fill="url(#ga80)"/><rect x="41" y="110" width="215" height="1" fill="url(#ga81)"/><rect x="41" y="111" width="215" height="1" fill="url(#ga82)"/><rect x="41" y="112" width="215" height="1" fill="url(#ga83)"/><rect x="41" y="113" width="215" height="1" fill="url(#ga84)"/><rect x="41" y="114" width="215" height="1" fill="url(#ga85)"/><rect x="41" y="115" width="215" height="1" fill="url(#ga86)"/><rect x="41" y="116" width="215" height="1" fill="url(#ga87)"/><rect x="41" y="117" width="215" height="1" fill="url(#ga88)"/><rect x="44" y="158" width="211" height="1" fill="url(#gb0)"/><rect x="44" y="159" width="211" height="1" fill="url(#gb1)"/><rect x="44" y="160" width="211" height="1" fill="url(#gb2)"/><rect x="44" y="161" width="211" height="1" fill="url(#gb3)"/><rect x="44" y="162" width="211" height="1" fill="url(#gb4)"/><rect x="44" y="163" width="211" height="1" fill="url(#gb5)"/><rect x="44" y="164" width="211" height="1" fill="url(#gb6)"/><rect x="44" y="165" width="211" height="1" fill="url(#gb7)"/><rect x="44" y="166" width="211" height="1" fill="url(#gb8)"/><rect x="44" y="167" width="211" height="1" fill="url(#gb9)"/><rect x="44" y="168" width="211" height="1" fill="url(#gb10)"/><rect x="44" y="169" width="211" height="1" fill="url(#gb11)"/><rect x="44" y="170" width="211" height="1" fill="url(#gb12)"/><rect x="44" y="171" width="211" height="1" fill="url(#gb13)"/><rect x="44" y="172" width="211" height="1" fill="url(#gb14)"/><rect x="44" y="173" width="211" height="1" fill="url(#gb15)"/><rect x="44" y="174" width="211" height="1" fill="url(#gb16)"/><rect x="44" y="175" width="211" height="1" fill="url(#gb17)"/><rect x="44" y="176" width="211" height="1" fill="url(#gb18)"/><rect x="44" y="177" width="211" height="1" fill="url(#gb19)"/><rect x="44" y="178" width="211" height="1" fill="url(#gb20)"/><rect x="44" y="179" width="211" height="1" fill="url(#gb21)"/><rect x="44" y="180" width="211" height="1" fill="url(#gb22)"/><rect x="44" y="181" width="211" height="1" fill="url(#gb23)"/><rect x="44" y="182" width="211" height="1" fill="url(#gb24)"/><rect x="44" y="183" width="211" height="1" fill="url(#gb25)"/><rect x="44" y="184" width="211" height="1" fill="url(#gb26)"/><rect x="44" y="185" width="211" height="1" fill="url(#gb27)"/><rect x="44" y="186" width="211" height="1" fill="url(#gb28)"/><rect x="44" y="187" width="211" height="1" fill="url(#gb29)"/><rect x="44" y="188" width="211" height="1" fill="url(#gb30)"/><rect x="44" y="189" width="211" height="1" fill="url(#gb31)"/><rect x="44" y="190" width="211" height="1" fill="url(#gb32)"/><rect x="44" y="191" width="211" height="1" fill="url(#gb33)"/><rect x="44" y="192" width="211" height="1" fill="url(#gb34)"/><rect x="44" y="193" width="211" height="1" fill="url(#gb35)"/><rect x="44" y="194" width="211" height="1" fill="url(#gb36)"/><rect x="44" y="195" width="211" height="1" fill="url(#gb37)"/><rect x="44" y="196" width="211" height="1" fill="url(#gb38)"/><rect x="44" y="197" width="211" height="1" fill="url(#gb39)"/><rect x="44" y="198" width="211" height="1" fill="url(#gb40)"/><rect x="44" y="199" width="211" height="1" fill="url(#gb41)"/><rect x="44" y="200" width="211" height="1" fill="url(#gb42)"/><rect x="44" y="201" width="211" height="1" fill="url(#gb43)"/><rect x="44" y="202" width="211" height="1" fill="url(#gb44)"/><rect x="44" y="203" width="211" height="1" fill="url(#gb45)"/><rect x="44" y="204" width="211" height="1" fill="url(#gb46)"/><rect x="44" y="205" width="211" height="1" fill="url(#gb47)"/><rect x="44" y="206" width="211" height="1" fill="url(#gb48)"/><rect x="44" y="207" width="211" height="1" fill="url(#gb49)"/><rect x="44" y="208" width="211" height="1" fill="url(#gb50)"/><rect x="44" y="209" width="211" height="1" fill="url(#gb51)"/><rect x="44" y="210" width="211" height="1" fill="url(#gb52)"/><rect x="44" y="211" width="211" height="1" fill="url(#gb53)"/><rect x="44" y="212" width="211" height="1" fill="url(#gb54)"/><rect x="44" y="213" width="211" height="1" fill="url(#gb55)"/><rect x="44" y="214" width="211" height="1" fill="url(#gb56)"/><rect x="44" y="215" width="211" height="1" fill="url(#gb57)"/><rect x="44" y="216" width="211" height="1" fill="url(#gb58)"/><rect x="44" y="217" width="211" height="1" fill="url(#gb59)"/><rect x="44" y="218" width="211" height="1" fill="url(#gb60)"/><rect x="44" y="219" width="211" height="1" fill="url(#gb61)"/><rect x="44" y="220" width="211" height="1" fill="url(#gb62)"/><rect x="44" y="221" width="211" height="1" fill="url(#gb63)"/><rect x="44" y="222" width="211" height="1" fill="url(#gb64)"/><rect x="44" y="223" width="211" height="1" fill="url(#gb65)"/><rect x="44" y="224" width="211" height="1" fill="url(#gb66)"/><rect x="44" y="225" width="211" height="1" fill="url(#gb67)"/><rect x="44" y="226" width="211" height="1" fill="url(#gb68)"/><rect x="44" y="227" width="211" height="1" fill="url(#gb69)"/><rect x="44" y="228" width="211" height="1" fill="url(#gb70)"/><rect x="44" y="229" width="211" height="1" fill="url(#gb71)"/><rect x="44" y="230" width="211" height="1" fill="url(#gb72)"/><rect x="44" y="231" width="211" height="1" fill="url(#gb73)"/><rect x="44" y="232" width="211" height="1" fill="url(#gb74)"/><rect x="44" y="233" width="211" height="1" fill="url(#gb75)"/><rect x="44" y="234" width="211" height="1" fill="url(#gb76)"/><rect x="44" y="235" width="211" height="1" fill="url(#gb77)"/><rect x="44" y="236" width="211" height="1" fill="url(#gb78)"/><rect x="44" y="237" width="211" height="1" fill="url(#gb79)"/><rect x="44" y="238" width="211" height="1" fill="url(#gb80)"/><rect x="44" y="239" width="211" height="1" fill="url(#gb81)"/><rect x="44" y="240" width="211" height="1" fill="url(#gb82)"/><rect x="44" y="241" width="211" height="1" fill="url(#gb83)"/><rect x="44" y="242" width="211" height="1" fill="url(#gb84)"/><rect x="44" y="243" width="211" height="1" fill="url(#gb85)"/><rect x="44" y="244" width="211" height="1" fill="url(#gb86)"/><rect x="44" y="245" width="211" height="1" fill="url(#gb87)"/><rect x="44" y="246" width="211" height="1" fill="url(#gb88)"/><rect x="44" y="247" width="211" height="1" fill="url(#gb89)"/><rect x="44" y="248" width="211" height="1" fill="url(#gb90)"/><rect x="44" y="249" width="211" height="1" fill="url(#gb91)"/></g><polygon points="46.60,68.33 55.38,68.89 64.16,69.44 72.93,69.99 81.71,70.54 90.49,71.06 99.27,71.57 108.05,72.05 116.83,72.51 125.60,72.93 134.38,73.31 143.16,73.65 151.94,73.94 160.72,74.17 169.50,74.35 178.27,74.47 187.05,74.51 195.83,74.49 204.61,74.38 213.39,74.19 222.17,73.92 230.94,73.55 239.72,73.09 248.50,72.52 248.50,84.51 239.72,85.06 230.94,85.53 222.17,85.91 213.39,86.21 204.61,86.44 195.83,86.59 187.05,86.67 178.27,86.68 169.50,86.62 160.72,86.50 151.94,86.32 143.16,86.09 134.38,85.80 125.60,85.46 116.83,85.06 108.05,84.63 99.27,84.15 90.49,83.63 81.71,83.07 72.93,82.48 64.16,81.85 55.38,81.20 46.60,80.52" fill="#fff" stroke="#444" stroke-width="0.9"/><polyline points="46.60,74.42 55.38,75.04 64.16,75.65 72.93,76.24 81.71,76.80 90.49,77.35 99.27,77.86 108.05,78.34 116.83,78.79 125.60,79.19 134.38,79.55 143.16,79.87 151.94,80.13 160.72,80.34 169.50,80.49 178.27,80.57 187.05,80.59 195.83,80.54 204.61,80.41 213.39,80.20 222.17,79.91 230.94,79.54 239.72,79.07 248.50,78.52" fill="none" stroke="#555" stroke-width="0.9"/><polygon points="55.60,212.98 62.49,211.96 69.37,211.76 76.26,211.48 83.15,210.99 90.03,210.37 96.92,209.71 103.81,208.95 110.70,208.11 117.58,207.22 124.47,206.34 131.36,205.42 138.24,204.44 145.13,203.49 152.02,202.62 158.90,201.88 165.79,201.22 172.68,200.61 179.57,200.00 186.45,199.37 193.34,198.72 200.23,198.07 207.11,197.46 214.00,196.93 214.00,212.10 207.11,212.10 200.23,212.10 193.34,212.10 186.45,212.10 179.57,212.11 172.68,212.19 165.79,212.31 158.90,212.47 152.02,212.67 145.13,213.05 138.24,213.57 131.36,214.12 124.47,214.58 117.58,214.92 110.70,215.24 103.81,215.51 96.92,215.73 90.03,215.88 83.15,216.02 76.26,216.09 69.37,216.01 62.49,215.56 55.60,213.65" fill="#fff" stroke="#333" stroke-width="0.9"/><polyline points="55.60,213.31 62.49,213.76 69.37,213.88 76.26,213.79 83.15,213.50 90.03,213.13 96.92,212.72 103.81,212.23 110.70,211.67 117.58,211.07 124.47,210.46 131.36,209.77 138.24,209.01 145.13,208.27 152.02,207.64 158.90,207.18 165.79,206.77 172.68,206.40 179.57,206.06 186.45,205.74 193.34,205.41 200.23,205.08 207.11,204.78 214.00,204.52" fill="none" stroke="#555" stroke-width="0.9"/><circle cx="227.5" cy="205.1" r="16.1" fill="#fff" stroke="#333" stroke-width="0.9"/><rect x="41.5" y="29.5" width="214" height="88" fill="none" stroke="#333" stroke-width="1"/><rect x="44.5" y="158.5" width="210" height="91" fill="none" stroke="#333" stroke-width="1"/><path d="M43.4,30v3M43.4,117v-3M94.3,30v3M94.3,117v-3M145.2,30v3M145.2,117v-3M196.2,30v3M196.2,117v-3M247.1,30v3M247.1,117v-3M42,108.0h3M255,108.0h-3M42,97.7h3M255,97.7h-3M42,87.3h3M255,87.3h-3M42,76.9h3M255,76.9h-3M42,66.5h3M255,66.5h-3M42,56.1h3M255,56.1h-3M42,45.8h3M255,45.8h-3M42,35.4h3M255,35.4h-3M48.4,159v3M48.4,249v-3M87.8,159v3M87.8,249v-3M127.3,159v3M127.3,249v-3M166.8,159v3M166.8,249v-3M206.2,159v3M206.2,249v-3M245.6,159v3M245.6,249v-3M45,238.5h3M254,238.5h-3M45,222.4h3M254,222.4h-3M45,206.3h3M254,206.3h-3M45,190.2h3M254,190.2h-3M45,174.1h3M254,174.1h-3" stroke="#333" stroke-width="1" fill="none"/><g font-family="Liberation Sans, sans-serif" fill="#111" stroke="#111" stroke-width="0.3"><text x="0.6" y="12.6" font-size="14.6" font-weight="bold" fill="#000">(a)</text><text x="1.1" y="152.8" font-size="14.6" font-weight="bold" fill="#000">(b)</text><text x="287.6" y="13.5" font-size="14.4" font-weight="bold" fill="#000">(c)</text><g font-size="8.5"><text x="22.9" y="24.3" font-size="8.3" textLength="49" lengthAdjust="spacingAndGlyphs">Time=0.005 s</text><text x="107.8" y="24.3" font-size="8.3" textLength="81.6" lengthAdjust="spacingAndGlyphs">Surface: Pressure (kPa)</text><text x="25.2" y="153.2" font-size="8.7" textLength="51.7" lengthAdjust="spacingAndGlyphs">Time=0.005 s</text><text x="113.8" y="153.2" font-size="8.7" textLength="85.2" lengthAdjust="spacingAndGlyphs">Surface: Pressure (kPa)</text><text x="38.6" y="110.8" text-anchor="end">-30</text><text x="38.6" y="100.5" text-anchor="end">-20</text><text x="38.6" y="90.1" text-anchor="end">-10</text><text x="38.6" y="79.7" text-anchor="end">0</text><text x="38.6" y="69.3" text-anchor="end">10</text><text x="38.6" y="58.9" text-anchor="end">20</text><text x="38.6" y="48.6" text-anchor="end">30</text><text x="44.4" y="129.1" text-anchor="middle">-200</text><text x="95.3" y="129.1" text-anchor="middle">-150</text><text x="146.2" y="129.1" text-anchor="middle">-100</text><text x="197.2" y="129.1" text-anchor="middle">-50</text><text x="14.3" y="33.8" font-size="9.2"><tspan font-style="italic">μ</tspan>m</text><text x="244.3" y="127.5" font-size="9.2"><tspan font-style="italic">μ</tspan>m</text><text x="42" y="241.3" text-anchor="end">-40</text><text x="42" y="225.2" text-anchor="end">-20</text><text x="42" y="209.1" text-anchor="end">0</text><text x="42" y="193.0" text-anchor="end">20</text><text x="42" y="176.9" text-anchor="end">40</text><text x="49.4" y="261.8" font-size="9" text-anchor="middle">-200</text><text x="88.8" y="261.8" font-size="9" text-anchor="middle">-150</text><text x="128.3" y="261.8" font-size="9" text-anchor="middle">-100</text><text x="167.8" y="261.8" font-size="9" text-anchor="middle">-50</text><text x="207.2" y="261.8" font-size="9" text-anchor="middle">0</text><text x="16.3" y="162.8" font-size="9.4"><tspan font-style="italic">μ</tspan>m</text><text x="242.8" y="259.4" font-size="9.6"><tspan font-style="italic">μ</tspan>m</text><g font-size="8.4"><text x="281.6" y="60.4">-5</text><text x="281.6" y="74.8">-5.5</text><text x="281.6" y="89.0">-6</text><text x="281.6" y="103.3">-6.5</text></g><g font-size="8.9"><text x="270.0" y="173.4">174</text><text x="282.4" y="202.0">174</text><text x="282.4" y="222.8">173</text><text x="270.1" y="248.9">172</text></g></g></g><rect x="267.7" y="48.1" width="9.2" height="65.9" fill="url(#cbj)" stroke="#333" stroke-width="0.8"/><rect x="267.7" y="189.2" width="9.3" height="46.3" fill="url(#cbw)" stroke="#333" stroke-width="0.8"/><path d="M268.1,57.4h2M276.6,57.4h-2M268.1,71.8h2M276.6,71.8h-2M268.1,86.0h2M276.6,86.0h-2M268.1,100.3h2M276.6,100.3h-2M268.1,198.9h2M276.6,198.9h-2M268.1,219.7h2M276.6,219.7h-2" stroke="#222" stroke-width="1" fill="none"/><path d="M339.2,21.2H559.6V240.8H339.2Z" fill="none" stroke="#000" stroke-width="1.6"/><path d="M339.2,240.8v-7.3M361.2,240.8v-4.2M383.2,240.8v-7.3M405.2,240.8v-4.2M427.2,240.8v-7.3M449.2,240.8v-4.2M471.2,240.8v-7.3M493.2,240.8v-4.2M515.2,240.8v-7.3M537.2,240.8v-4.2M559.2,240.8v-7.3M339.2,240.8h7.3M339.2,213.4h4.2M339.2,185.9h7.3M339.2,158.4h4.2M339.2,131.0h7.3M339.2,103.6h4.2M339.2,76.1h7.3M339.2,48.6h4.2M339.2,21.2h7.3" stroke="#000" stroke-width="1.5" fill="none"/><g font-family="Liberation Sans, sans-serif" font-size="10" fill="#000" stroke="#000" stroke-width="0.15"><text x="335.2" y="245.5" text-anchor="end">0</text><text x="335.2" y="190.4" text-anchor="end">4</text><text x="335.2" y="135.4" text-anchor="end">8</text><text x="335.2" y="80.3" text-anchor="end">12</text><text x="335.2" y="25.3" text-anchor="end">16</text><text x="339.2" y="254.5" text-anchor="middle">0</text><text x="383.2" y="254.5" text-anchor="middle">5000</text><text x="427.2" y="254.5" text-anchor="middle">10000</text><text x="471.2" y="254.5" text-anchor="middle">15000</text><text x="515.2" y="254.5" text-anchor="middle">20000</text><text x="559.2" y="254.5" text-anchor="middle">25000</text><text x="449.7" y="266.7" font-size="12.2" text-anchor="middle">Number of elements</text><text transform="translate(320.8,130.4) rotate(-90)" font-size="12.5" text-anchor="middle">Error (%)</text><text x="383.2" y="32.7" textLength="41.3" lengthAdjust="spacingAndGlyphs">With head</text><text x="383.2" y="54.2" textLength="54.5" lengthAdjust="spacingAndGlyphs">Without head</text></g><ellipse cx="355.2" cy="29.2" rx="3.0" ry="3.2" fill="#f01414"/><path d="M355.2,45.8L358.8,50.5L355.2,55.2L351.6,50.5Z" fill="#0a14f0"/><path d="M354.7,69.7L358.3,74.4L354.7,79.1L351.1,74.4Z" fill="#0a14f0"/><path d="M360.8,112.3L364.4,117.0L360.8,121.7L357.2,117.0Z" fill="#0a14f0"/><path d="M374.8,132.8L378.4,137.5L374.8,142.2L371.2,137.5Z" fill="#0a14f0"/><path d="M395.5,210.2L399.1,214.9L395.5,219.6L391.9,214.9Z" fill="#0a14f0"/><path d="M433.9,161.7L437.5,166.4L433.9,171.1L430.3,166.4Z" fill="#0a14f0"/><path d="M556.2,236.1L559.8,240.8L556.2,245.5L552.6,240.8Z" fill="#0a14f0"/><ellipse cx="362.0" cy="234.2" rx="3.0" ry="3.2" fill="#f01414"/><ellipse cx="370.2" cy="200.8" rx="3.0" ry="3.2" fill="#f01414"/><ellipse cx="388.2" cy="218.5" rx="3.0" ry="3.2" fill="#f01414"/><ellipse cx="407.7" cy="238.3" rx="3.0" ry="3.2" fill="#f01414"/><ellipse cx="450.0" cy="227.3" rx="3.0" ry="3.2" fill="#f01414"/><ellipse cx="556.7" cy="240.8" rx="3.0" ry="3.2" fill="#f01414"/></svg></body></html>
